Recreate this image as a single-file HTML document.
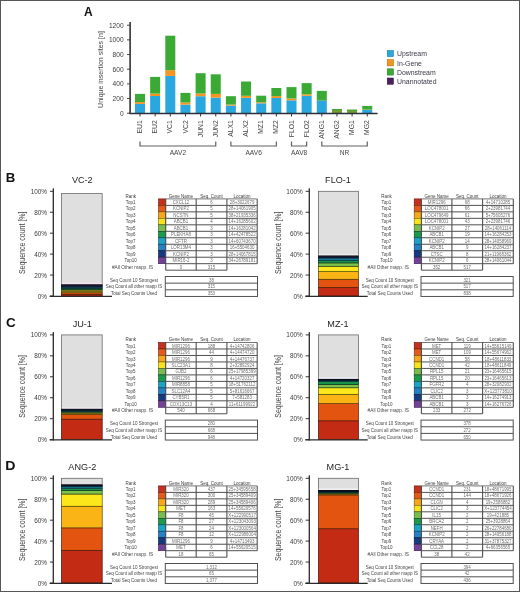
<!DOCTYPE html>
<html><head><meta charset="utf-8"><style>
html,body{margin:0;padding:0;background:#fff;}
body{width:520px;height:592px;overflow:hidden;}
svg{display:block;font-family:"Liberation Sans", sans-serif;will-change:transform;}
</style></head><body>
<svg width="520" height="592" viewBox="0 0 520 592">
<rect x="0" y="0" width="520" height="592" fill="#fff"/>
<text x="88.30" y="15.60" font-size="12" text-anchor="middle" fill="#111" font-weight="bold" >A</text>
<line x1="130.20" y1="22.00" x2="130.20" y2="113.70" stroke="#444" stroke-width="1.4"/>
<line x1="127.00" y1="113.20" x2="130.20" y2="113.20" stroke="#333" stroke-width="0.9"/>
<text x="123.60" y="115.50" font-size="6.6" text-anchor="end" fill="#3a3a3a" font-weight="normal" >0</text>
<line x1="127.00" y1="98.53" x2="130.20" y2="98.53" stroke="#333" stroke-width="0.9"/>
<text x="123.60" y="100.83" font-size="6.6" text-anchor="end" fill="#3a3a3a" font-weight="normal" >200</text>
<line x1="127.00" y1="83.87" x2="130.20" y2="83.87" stroke="#333" stroke-width="0.9"/>
<text x="123.60" y="86.17" font-size="6.6" text-anchor="end" fill="#3a3a3a" font-weight="normal" >400</text>
<line x1="127.00" y1="69.20" x2="130.20" y2="69.20" stroke="#333" stroke-width="0.9"/>
<text x="123.60" y="71.50" font-size="6.6" text-anchor="end" fill="#3a3a3a" font-weight="normal" >600</text>
<line x1="127.00" y1="54.53" x2="130.20" y2="54.53" stroke="#333" stroke-width="0.9"/>
<text x="123.60" y="56.83" font-size="6.6" text-anchor="end" fill="#3a3a3a" font-weight="normal" >800</text>
<line x1="127.00" y1="39.87" x2="130.20" y2="39.87" stroke="#333" stroke-width="0.9"/>
<text x="123.60" y="42.17" font-size="6.6" text-anchor="end" fill="#3a3a3a" font-weight="normal" >1000</text>
<line x1="127.00" y1="25.20" x2="130.20" y2="25.20" stroke="#333" stroke-width="0.9"/>
<text x="123.60" y="27.50" font-size="6.6" text-anchor="end" fill="#3a3a3a" font-weight="normal" >1200</text>
<text transform="translate(103.0,69.5) rotate(-90) scale(0.877,1)" font-size="8" text-anchor="middle" fill="#444">Unique insertion sites [n]</text>
<rect x="135.00" y="103.90" width="10.00" height="9.30" fill="#2aa7de"/>
<rect x="135.00" y="102.10" width="10.00" height="1.80" fill="#f7941d"/>
<rect x="135.00" y="93.90" width="10.00" height="8.20" fill="#3aaa35"/>
<line x1="140.00" y1="113.20" x2="140.00" y2="116.50" stroke="#333" stroke-width="1.0"/>
<text transform="translate(142.10,120.2) rotate(-90)" font-size="6.8" text-anchor="end" fill="#444">EU1</text>
<rect x="150.15" y="96.00" width="10.00" height="17.20" fill="#2aa7de"/>
<rect x="150.15" y="93.60" width="10.00" height="2.40" fill="#f7941d"/>
<rect x="150.15" y="76.90" width="10.00" height="16.70" fill="#3aaa35"/>
<line x1="155.15" y1="113.20" x2="155.15" y2="116.50" stroke="#333" stroke-width="1.0"/>
<text transform="translate(157.25,120.2) rotate(-90)" font-size="6.8" text-anchor="end" fill="#444">EU2</text>
<rect x="165.30" y="75.90" width="10.00" height="37.30" fill="#2aa7de"/>
<rect x="165.30" y="70.20" width="10.00" height="5.70" fill="#f7941d"/>
<rect x="165.30" y="35.70" width="10.00" height="34.50" fill="#3aaa35"/>
<line x1="170.30" y1="113.20" x2="170.30" y2="116.50" stroke="#333" stroke-width="1.0"/>
<text transform="translate(172.40,120.2) rotate(-90)" font-size="6.8" text-anchor="end" fill="#444">VC1</text>
<rect x="180.45" y="104.60" width="10.00" height="8.60" fill="#2aa7de"/>
<rect x="180.45" y="102.50" width="10.00" height="2.10" fill="#f7941d"/>
<rect x="180.45" y="92.90" width="10.00" height="9.60" fill="#3aaa35"/>
<line x1="185.45" y1="113.20" x2="185.45" y2="116.50" stroke="#333" stroke-width="1.0"/>
<text transform="translate(187.55,120.2) rotate(-90)" font-size="6.8" text-anchor="end" fill="#444">VC2</text>
<rect x="195.60" y="96.20" width="10.00" height="17.00" fill="#2aa7de"/>
<rect x="195.60" y="93.50" width="10.00" height="2.70" fill="#f7941d"/>
<rect x="195.60" y="73.20" width="10.00" height="20.30" fill="#3aaa35"/>
<line x1="200.60" y1="113.20" x2="200.60" y2="116.50" stroke="#333" stroke-width="1.0"/>
<text transform="translate(202.70,120.2) rotate(-90)" font-size="6.8" text-anchor="end" fill="#444">JUN1</text>
<rect x="210.75" y="97.60" width="10.00" height="15.60" fill="#2aa7de"/>
<rect x="210.75" y="93.90" width="10.00" height="3.70" fill="#f7941d"/>
<rect x="210.75" y="74.30" width="10.00" height="19.60" fill="#3aaa35"/>
<line x1="215.75" y1="113.20" x2="215.75" y2="116.50" stroke="#333" stroke-width="1.0"/>
<text transform="translate(217.85,120.2) rotate(-90)" font-size="6.8" text-anchor="end" fill="#444">JUN2</text>
<rect x="225.90" y="105.60" width="10.00" height="7.60" fill="#2aa7de"/>
<rect x="225.90" y="104.60" width="10.00" height="1.00" fill="#f7941d"/>
<rect x="225.90" y="96.20" width="10.00" height="8.40" fill="#3aaa35"/>
<line x1="230.90" y1="113.20" x2="230.90" y2="116.50" stroke="#333" stroke-width="1.0"/>
<text transform="translate(233.00,120.2) rotate(-90)" font-size="6.8" text-anchor="end" fill="#444">ALX1</text>
<rect x="241.05" y="97.80" width="10.00" height="15.40" fill="#2aa7de"/>
<rect x="241.05" y="95.80" width="10.00" height="2.00" fill="#f7941d"/>
<rect x="241.05" y="81.50" width="10.00" height="14.30" fill="#3aaa35"/>
<line x1="246.05" y1="113.20" x2="246.05" y2="116.50" stroke="#333" stroke-width="1.0"/>
<text transform="translate(248.15,120.2) rotate(-90)" font-size="6.8" text-anchor="end" fill="#444">ALX2</text>
<rect x="256.20" y="103.30" width="10.00" height="9.90" fill="#2aa7de"/>
<rect x="256.20" y="102.30" width="10.00" height="1.00" fill="#f7941d"/>
<rect x="256.20" y="95.70" width="10.00" height="6.60" fill="#3aaa35"/>
<line x1="261.20" y1="113.20" x2="261.20" y2="116.50" stroke="#333" stroke-width="1.0"/>
<text transform="translate(263.30,120.2) rotate(-90)" font-size="6.8" text-anchor="end" fill="#444">MZ1</text>
<rect x="271.35" y="98.00" width="10.00" height="15.20" fill="#2aa7de"/>
<rect x="271.35" y="96.10" width="10.00" height="1.90" fill="#f7941d"/>
<rect x="271.35" y="88.00" width="10.00" height="8.10" fill="#3aaa35"/>
<line x1="276.35" y1="113.20" x2="276.35" y2="116.50" stroke="#333" stroke-width="1.0"/>
<text transform="translate(278.45,120.2) rotate(-90)" font-size="6.8" text-anchor="end" fill="#444">MZ2</text>
<rect x="286.50" y="100.30" width="10.00" height="12.90" fill="#2aa7de"/>
<rect x="286.50" y="98.50" width="10.00" height="1.80" fill="#f7941d"/>
<rect x="286.50" y="87.10" width="10.00" height="11.40" fill="#3aaa35"/>
<line x1="291.50" y1="113.20" x2="291.50" y2="116.50" stroke="#333" stroke-width="1.0"/>
<text transform="translate(293.60,120.2) rotate(-90)" font-size="6.8" text-anchor="end" fill="#444">FLO1</text>
<rect x="301.65" y="95.80" width="10.00" height="17.40" fill="#2aa7de"/>
<rect x="301.65" y="94.30" width="10.00" height="1.50" fill="#f7941d"/>
<rect x="301.65" y="83.10" width="10.00" height="11.20" fill="#3aaa35"/>
<line x1="306.65" y1="113.20" x2="306.65" y2="116.50" stroke="#333" stroke-width="1.0"/>
<text transform="translate(308.75,120.2) rotate(-90)" font-size="6.8" text-anchor="end" fill="#444">FLO2</text>
<rect x="316.80" y="100.60" width="10.00" height="12.60" fill="#2aa7de"/>
<rect x="316.80" y="90.90" width="10.00" height="9.70" fill="#3aaa35"/>
<rect x="316.80" y="99.80" width="10.00" height="1.20" fill="#6fae8c"/>
<line x1="321.80" y1="113.20" x2="321.80" y2="116.50" stroke="#333" stroke-width="1.0"/>
<text transform="translate(323.90,120.2) rotate(-90)" font-size="6.8" text-anchor="end" fill="#444">ANG1</text>
<rect x="331.95" y="109.00" width="10.00" height="4.20" fill="#7a9c38"/>
<rect x="331.95" y="109.00" width="10.00" height="1.60" fill="#4aa532"/>
<line x1="336.95" y1="113.20" x2="336.95" y2="116.50" stroke="#333" stroke-width="1.0"/>
<text transform="translate(339.05,120.2) rotate(-90)" font-size="6.8" text-anchor="end" fill="#444">ANG2</text>
<rect x="347.10" y="109.70" width="10.00" height="3.50" fill="#7a9c38"/>
<rect x="347.10" y="109.70" width="10.00" height="1.60" fill="#4aa532"/>
<line x1="352.10" y1="113.20" x2="352.10" y2="116.50" stroke="#333" stroke-width="1.0"/>
<text transform="translate(354.20,120.2) rotate(-90)" font-size="6.8" text-anchor="end" fill="#444">MG1</text>
<rect x="362.25" y="110.00" width="10.00" height="3.20" fill="#2aa7de"/>
<rect x="362.25" y="109.60" width="10.00" height="0.40" fill="#f7941d"/>
<rect x="362.25" y="105.90" width="10.00" height="3.70" fill="#3aaa35"/>
<line x1="367.25" y1="113.20" x2="367.25" y2="116.50" stroke="#333" stroke-width="1.0"/>
<text transform="translate(369.35,120.2) rotate(-90)" font-size="6.8" text-anchor="end" fill="#444">MG2</text>
<line x1="129.50" y1="113.50" x2="377.60" y2="113.50" stroke="#2a2f38" stroke-width="1.4"/>
<line x1="130.20" y1="22.00" x2="130.20" y2="113.70" stroke="#444" stroke-width="1.4"/>
<path d="M140.00,141.4 V146.0 H215.75 V141.4" fill="none" stroke="#606060" stroke-width="1.2"/>
<text x="177.88" y="154.80" font-size="6.6" text-anchor="middle" fill="#444" font-weight="normal" >AAV2</text>
<path d="M230.90,141.4 V146.0 H276.35 V141.4" fill="none" stroke="#606060" stroke-width="1.2"/>
<text x="253.62" y="154.80" font-size="6.6" text-anchor="middle" fill="#444" font-weight="normal" >AAV6</text>
<path d="M291.50,141.4 V146.0 H306.65 V141.4" fill="none" stroke="#606060" stroke-width="1.2"/>
<text x="299.07" y="154.80" font-size="6.6" text-anchor="middle" fill="#444" font-weight="normal" >AAV8</text>
<path d="M321.80,141.4 V146.0 H367.25 V141.4" fill="none" stroke="#606060" stroke-width="1.2"/>
<text x="344.52" y="154.80" font-size="6.6" text-anchor="middle" fill="#444" font-weight="normal" >NR</text>
<rect x="387.20" y="50.40" width="6.30" height="6.30" fill="#2aa7de" stroke="#1d749b" stroke-width="0.5"/>
<text x="397.00" y="56.30" font-size="6.9" text-anchor="start" fill="#3a3646" font-weight="normal" >Upstream</text>
<rect x="387.20" y="59.60" width="6.30" height="6.30" fill="#f7941d" stroke="#ac6714" stroke-width="0.5"/>
<text x="397.00" y="65.50" font-size="6.9" text-anchor="start" fill="#3a3646" font-weight="normal" >In-Gene</text>
<rect x="387.20" y="68.80" width="6.30" height="6.30" fill="#3aaa35" stroke="#287625" stroke-width="0.5"/>
<text x="397.00" y="74.70" font-size="6.9" text-anchor="start" fill="#3a3646" font-weight="normal" >Downstream</text>
<rect x="387.20" y="78.00" width="6.30" height="6.30" fill="#4b1f5c" stroke="#341540" stroke-width="0.5"/>
<text x="397.00" y="83.90" font-size="6.9" text-anchor="start" fill="#3a3646" font-weight="normal" >Unannotated</text>
<g transform="translate(0,0)">
<text transform="translate(10.50,182.40) scale(1.1,1)" font-size="12.0" text-anchor="middle" fill="#111" font-weight="bold">B</text>
<text transform="translate(82.30,183.00) scale(0.95,1)" font-size="9.6" text-anchor="middle" fill="#1e1e1e" font-weight="normal">VC-2</text>
<line x1="53.40" y1="188.60" x2="53.40" y2="296.50" stroke="#333" stroke-width="1.2"/>
<line x1="50.00" y1="296.00" x2="53.40" y2="296.00" stroke="#333" stroke-width="1.0"/>
<text x="47.00" y="298.60" font-size="6.4" text-anchor="end" fill="#3a3a3a" font-weight="normal" >0%</text>
<line x1="50.00" y1="275.06" x2="53.40" y2="275.06" stroke="#333" stroke-width="1.0"/>
<text x="47.00" y="277.66" font-size="6.4" text-anchor="end" fill="#3a3a3a" font-weight="normal" >20%</text>
<line x1="50.00" y1="254.12" x2="53.40" y2="254.12" stroke="#333" stroke-width="1.0"/>
<text x="47.00" y="256.72" font-size="6.4" text-anchor="end" fill="#3a3a3a" font-weight="normal" >40%</text>
<line x1="50.00" y1="233.18" x2="53.40" y2="233.18" stroke="#333" stroke-width="1.0"/>
<text x="47.00" y="235.78" font-size="6.4" text-anchor="end" fill="#3a3a3a" font-weight="normal" >60%</text>
<line x1="50.00" y1="212.24" x2="53.40" y2="212.24" stroke="#333" stroke-width="1.0"/>
<text x="47.00" y="214.84" font-size="6.4" text-anchor="end" fill="#3a3a3a" font-weight="normal" >80%</text>
<line x1="50.00" y1="191.30" x2="53.40" y2="191.30" stroke="#333" stroke-width="1.0"/>
<text x="47.00" y="193.90" font-size="6.4" text-anchor="end" fill="#3a3a3a" font-weight="normal" >100%</text>
<text transform="translate(25.4,242.8) rotate(-90) scale(0.834,1)" font-size="8.4" text-anchor="middle" fill="#444">Sequence count [%]</text>
<rect x="61.40" y="193.60" width="40.80" height="91.13" fill="#dfdfdf" stroke="#6a6a6a" stroke-width="0.8"/>
<rect x="61.80" y="282.73" width="40.00" height="1.80" fill="#f5e3f1"/>
<rect x="61.40" y="294.22" width="40.80" height="1.78" fill="#c42b14" stroke="#3a0c06" stroke-width="0.65"/>
<rect x="61.40" y="292.74" width="40.80" height="1.48" fill="#e35411" stroke="#441905" stroke-width="0.65"/>
<rect x="61.40" y="291.25" width="40.80" height="1.48" fill="#fbb415" stroke="#4b3606" stroke-width="0.65"/>
<rect x="61.40" y="290.07" width="40.80" height="1.19" fill="#fce71b" stroke="#4b4508" stroke-width="0.65"/>
<rect x="61.40" y="289.18" width="40.80" height="0.89" fill="#7fc24a" stroke="#263a16" stroke-width="0.65"/>
<rect x="61.40" y="288.29" width="40.80" height="0.89" fill="#17944a" stroke="#062c16" stroke-width="0.65"/>
<rect x="61.40" y="287.40" width="40.80" height="0.89" fill="#1a8fa8" stroke="#072a32" stroke-width="0.65"/>
<rect x="61.40" y="286.51" width="40.80" height="0.89" fill="#2478b8" stroke="#0a2437" stroke-width="0.65"/>
<rect x="61.40" y="285.62" width="40.80" height="0.89" fill="#0f2a5c" stroke="#040c1b" stroke-width="0.65"/>
<rect x="61.40" y="284.73" width="40.80" height="0.89" fill="#2a2a4a" stroke="#0c0c16" stroke-width="0.65"/>
<line x1="49.60" y1="296.30" x2="112.00" y2="296.30" stroke="#2a2a2a" stroke-width="1.2"/>
<line x1="53.40" y1="188.60" x2="53.40" y2="296.90" stroke="#333" stroke-width="1.2"/>
<text transform="translate(130.80,197.60) scale(0.92,1)" font-size="4.9" text-anchor="middle" fill="#3a3a3a" font-weight="normal">Rank</text>
<text transform="translate(180.95,197.60) scale(0.92,1)" font-size="4.9" text-anchor="middle" fill="#3a3a3a" font-weight="normal">Gene Name</text>
<text transform="translate(211.55,197.60) scale(0.92,1)" font-size="4.9" text-anchor="middle" fill="#3a3a3a" font-weight="normal">Seq. Count</text>
<text transform="translate(242.05,197.60) scale(0.92,1)" font-size="4.9" text-anchor="middle" fill="#3a3a3a" font-weight="normal">Location</text>
<text transform="translate(130.60,203.94) scale(0.92,1)" font-size="4.9" text-anchor="middle" fill="#444" font-weight="normal">Top1</text>
<rect x="158.50" y="198.90" width="7.20" height="6.48" fill="#c8301e" stroke="#5a150d" stroke-width="0.6"/>
<text transform="translate(180.95,203.94) scale(0.9,1)" font-size="4.9" text-anchor="middle" fill="#6e6e6e" font-weight="normal">CXCL12</text>
<text transform="translate(211.55,203.94) scale(0.9,1)" font-size="4.9" text-anchor="middle" fill="#6e6e6e" font-weight="normal">6</text>
<text transform="translate(242.05,203.94) scale(0.9,1)" font-size="4.9" text-anchor="middle" fill="#6e6e6e" font-weight="normal">28+3022679</text>
<text transform="translate(130.60,210.42) scale(0.92,1)" font-size="4.9" text-anchor="middle" fill="#444" font-weight="normal">Top2</text>
<rect x="158.50" y="205.38" width="7.20" height="6.48" fill="#e55a1c" stroke="#67280c" stroke-width="0.6"/>
<text transform="translate(180.95,210.42) scale(0.9,1)" font-size="4.9" text-anchor="middle" fill="#6e6e6e" font-weight="normal">KCNIP2</text>
<text transform="translate(211.55,210.42) scale(0.9,1)" font-size="4.9" text-anchor="middle" fill="#6e6e6e" font-weight="normal">5</text>
<text transform="translate(242.05,210.42) scale(0.9,1)" font-size="4.9" text-anchor="middle" fill="#6e6e6e" font-weight="normal">28+14061905</text>
<text transform="translate(130.60,216.90) scale(0.92,1)" font-size="4.9" text-anchor="middle" fill="#444" font-weight="normal">Top3</text>
<rect x="158.50" y="211.86" width="7.20" height="6.48" fill="#f6a81a" stroke="#6e4b0b" stroke-width="0.6"/>
<text transform="translate(180.95,216.90) scale(0.9,1)" font-size="4.9" text-anchor="middle" fill="#6e6e6e" font-weight="normal">NCSTN</text>
<text transform="translate(211.55,216.90) scale(0.9,1)" font-size="4.9" text-anchor="middle" fill="#6e6e6e" font-weight="normal">5</text>
<text transform="translate(242.05,216.90) scale(0.9,1)" font-size="4.9" text-anchor="middle" fill="#6e6e6e" font-weight="normal">38+21935336</text>
<text transform="translate(130.60,223.38) scale(0.92,1)" font-size="4.9" text-anchor="middle" fill="#444" font-weight="normal">Top4</text>
<rect x="158.50" y="218.34" width="7.20" height="6.48" fill="#f9e31c" stroke="#70660c" stroke-width="0.6"/>
<text transform="translate(180.95,223.38) scale(0.9,1)" font-size="4.9" text-anchor="middle" fill="#6e6e6e" font-weight="normal">ABCB1</text>
<text transform="translate(211.55,223.38) scale(0.9,1)" font-size="4.9" text-anchor="middle" fill="#6e6e6e" font-weight="normal">4</text>
<text transform="translate(242.05,223.38) scale(0.9,1)" font-size="4.9" text-anchor="middle" fill="#6e6e6e" font-weight="normal">14+16285602</text>
<text transform="translate(130.60,229.86) scale(0.92,1)" font-size="4.9" text-anchor="middle" fill="#444" font-weight="normal">Top5</text>
<rect x="158.50" y="224.82" width="7.20" height="6.48" fill="#79bd4f" stroke="#365523" stroke-width="0.6"/>
<text transform="translate(180.95,229.86) scale(0.9,1)" font-size="4.9" text-anchor="middle" fill="#6e6e6e" font-weight="normal">ABCB1</text>
<text transform="translate(211.55,229.86) scale(0.9,1)" font-size="4.9" text-anchor="middle" fill="#6e6e6e" font-weight="normal">3</text>
<text transform="translate(242.05,229.86) scale(0.9,1)" font-size="4.9" text-anchor="middle" fill="#6e6e6e" font-weight="normal">14+16281042</text>
<text transform="translate(130.60,236.34) scale(0.92,1)" font-size="4.9" text-anchor="middle" fill="#444" font-weight="normal">Top6</text>
<rect x="158.50" y="231.30" width="7.20" height="6.48" fill="#1a9b4b" stroke="#0b4521" stroke-width="0.6"/>
<text transform="translate(180.95,236.34) scale(0.9,1)" font-size="4.9" text-anchor="middle" fill="#6e6e6e" font-weight="normal">PLEKHA8</text>
<text transform="translate(211.55,236.34) scale(0.9,1)" font-size="4.9" text-anchor="middle" fill="#6e6e6e" font-weight="normal">3</text>
<text transform="translate(242.05,236.34) scale(0.9,1)" font-size="4.9" text-anchor="middle" fill="#6e6e6e" font-weight="normal">14+42478522</text>
<text transform="translate(130.60,242.82) scale(0.92,1)" font-size="4.9" text-anchor="middle" fill="#444" font-weight="normal">Top7</text>
<rect x="158.50" y="237.78" width="7.20" height="6.48" fill="#1ba3c6" stroke="#0c4959" stroke-width="0.6"/>
<text transform="translate(180.95,242.82) scale(0.9,1)" font-size="4.9" text-anchor="middle" fill="#6e6e6e" font-weight="normal">CFTR</text>
<text transform="translate(211.55,242.82) scale(0.9,1)" font-size="4.9" text-anchor="middle" fill="#6e6e6e" font-weight="normal">3</text>
<text transform="translate(242.05,242.82) scale(0.9,1)" font-size="4.9" text-anchor="middle" fill="#6e6e6e" font-weight="normal">14+60743670</text>
<text transform="translate(130.60,249.30) scale(0.92,1)" font-size="4.9" text-anchor="middle" fill="#444" font-weight="normal">Top8</text>
<rect x="158.50" y="244.26" width="7.20" height="6.48" fill="#2481c3" stroke="#103a57" stroke-width="0.6"/>
<text transform="translate(180.95,249.30) scale(0.9,1)" font-size="4.9" text-anchor="middle" fill="#6e6e6e" font-weight="normal">LOR13M4</text>
<text transform="translate(211.55,249.30) scale(0.9,1)" font-size="4.9" text-anchor="middle" fill="#6e6e6e" font-weight="normal">3</text>
<text transform="translate(242.05,249.30) scale(0.9,1)" font-size="4.9" text-anchor="middle" fill="#6e6e6e" font-weight="normal">16+5504630</text>
<text transform="translate(130.60,255.78) scale(0.92,1)" font-size="4.9" text-anchor="middle" fill="#444" font-weight="normal">Top9</text>
<rect x="158.50" y="250.74" width="7.20" height="6.48" fill="#163a80" stroke="#091a39" stroke-width="0.6"/>
<text transform="translate(180.95,255.78) scale(0.9,1)" font-size="4.9" text-anchor="middle" fill="#6e6e6e" font-weight="normal">KCNIP2</text>
<text transform="translate(211.55,255.78) scale(0.9,1)" font-size="4.9" text-anchor="middle" fill="#6e6e6e" font-weight="normal">3</text>
<text transform="translate(242.05,255.78) scale(0.9,1)" font-size="4.9" text-anchor="middle" fill="#6e6e6e" font-weight="normal">28+14067815</text>
<text transform="translate(130.60,262.26) scale(0.92,1)" font-size="4.9" text-anchor="middle" fill="#444" font-weight="normal">Top10</text>
<rect x="158.50" y="257.22" width="7.20" height="6.48" fill="#74409a" stroke="#341c45" stroke-width="0.6"/>
<text transform="translate(180.95,262.26) scale(0.9,1)" font-size="4.9" text-anchor="middle" fill="#6e6e6e" font-weight="normal">MIR16-2</text>
<text transform="translate(211.55,262.26) scale(0.9,1)" font-size="4.9" text-anchor="middle" fill="#6e6e6e" font-weight="normal">3</text>
<text transform="translate(242.05,262.26) scale(0.9,1)" font-size="4.9" text-anchor="middle" fill="#6e6e6e" font-weight="normal">34+26789181</text>
<line x1="165.70" y1="198.90" x2="257.20" y2="198.90" stroke="#505050" stroke-width="0.8"/>
<line x1="165.70" y1="205.38" x2="257.20" y2="205.38" stroke="#505050" stroke-width="1.0"/>
<line x1="165.70" y1="211.86" x2="257.20" y2="211.86" stroke="#505050" stroke-width="1.0"/>
<line x1="165.70" y1="218.34" x2="257.20" y2="218.34" stroke="#505050" stroke-width="1.0"/>
<line x1="165.70" y1="224.82" x2="257.20" y2="224.82" stroke="#505050" stroke-width="1.0"/>
<line x1="165.70" y1="231.30" x2="257.20" y2="231.30" stroke="#505050" stroke-width="1.0"/>
<line x1="165.70" y1="237.78" x2="257.20" y2="237.78" stroke="#505050" stroke-width="1.0"/>
<line x1="165.70" y1="244.26" x2="257.20" y2="244.26" stroke="#505050" stroke-width="1.0"/>
<line x1="165.70" y1="250.74" x2="257.20" y2="250.74" stroke="#505050" stroke-width="1.0"/>
<line x1="165.70" y1="257.22" x2="257.20" y2="257.22" stroke="#505050" stroke-width="1.0"/>
<line x1="165.70" y1="263.70" x2="257.20" y2="263.70" stroke="#505050" stroke-width="1.0"/>
<line x1="165.70" y1="198.90" x2="165.70" y2="263.70" stroke="#505050" stroke-width="1.1"/>
<line x1="196.20" y1="198.90" x2="196.20" y2="263.70" stroke="#505050" stroke-width="1.1"/>
<line x1="226.90" y1="198.90" x2="226.90" y2="263.70" stroke="#505050" stroke-width="1.1"/>
<line x1="257.20" y1="198.90" x2="257.20" y2="263.70" stroke="#505050" stroke-width="1.1"/>
<text transform="translate(132.60,268.74) scale(0.97,1)" font-size="4.9" text-anchor="middle" fill="#444" font-weight="normal">#All Other mapp. IS</text>
<text transform="translate(180.95,268.74) scale(0.9,1)" font-size="4.9" text-anchor="middle" fill="#6e6e6e" font-weight="normal">0</text>
<text transform="translate(211.55,268.74) scale(0.9,1)" font-size="4.9" text-anchor="middle" fill="#6e6e6e" font-weight="normal">315</text>
<line x1="165.70" y1="270.18" x2="226.90" y2="270.18" stroke="#505050" stroke-width="1.0"/>
<line x1="165.70" y1="263.70" x2="165.70" y2="270.18" stroke="#505050" stroke-width="1.1"/>
<line x1="196.20" y1="263.70" x2="196.20" y2="270.18" stroke="#505050" stroke-width="1.1"/>
<line x1="226.90" y1="263.70" x2="226.90" y2="270.18" stroke="#505050" stroke-width="1.1"/>
<text transform="translate(134.00,281.62) scale(0.92,1)" font-size="4.9" text-anchor="middle" fill="#444" font-weight="normal">Seq Count 10 Strongest</text>
<text transform="translate(211.40,281.62) scale(0.9,1)" font-size="4.9" text-anchor="middle" fill="#6e6e6e" font-weight="normal">38</text>
<text transform="translate(134.00,288.27) scale(0.92,1)" font-size="4.9" text-anchor="middle" fill="#444" font-weight="normal">Seq Count all other mapp IS</text>
<text transform="translate(211.40,288.27) scale(0.9,1)" font-size="4.9" text-anchor="middle" fill="#6e6e6e" font-weight="normal">315</text>
<text transform="translate(134.00,294.93) scale(0.92,1)" font-size="4.9" text-anchor="middle" fill="#444" font-weight="normal">Total Seq Counts Used</text>
<text transform="translate(211.40,294.93) scale(0.9,1)" font-size="4.9" text-anchor="middle" fill="#6e6e6e" font-weight="normal">353</text>
<rect x="165.30" y="276.50" width="92.20" height="19.95" fill="none" stroke="#505050" stroke-width="1.0"/>
<line x1="165.30" y1="283.15" x2="257.50" y2="283.15" stroke="#505050" stroke-width="1.0"/>
<line x1="165.30" y1="289.80" x2="257.50" y2="289.80" stroke="#505050" stroke-width="1.0"/>
</g>
<g transform="translate(255.7,0)">
<text transform="translate(82.30,183.00) scale(0.95,1)" font-size="9.6" text-anchor="middle" fill="#1e1e1e" font-weight="normal">FLO-1</text>
<line x1="53.70" y1="188.60" x2="53.70" y2="296.50" stroke="#333" stroke-width="1.2"/>
<line x1="50.00" y1="296.00" x2="53.70" y2="296.00" stroke="#333" stroke-width="1.0"/>
<text x="47.00" y="298.60" font-size="6.4" text-anchor="end" fill="#3a3a3a" font-weight="normal" >0%</text>
<line x1="50.00" y1="275.06" x2="53.70" y2="275.06" stroke="#333" stroke-width="1.0"/>
<text x="47.00" y="277.66" font-size="6.4" text-anchor="end" fill="#3a3a3a" font-weight="normal" >20%</text>
<line x1="50.00" y1="254.12" x2="53.70" y2="254.12" stroke="#333" stroke-width="1.0"/>
<text x="47.00" y="256.72" font-size="6.4" text-anchor="end" fill="#3a3a3a" font-weight="normal" >40%</text>
<line x1="50.00" y1="233.18" x2="53.70" y2="233.18" stroke="#333" stroke-width="1.0"/>
<text x="47.00" y="235.78" font-size="6.4" text-anchor="end" fill="#3a3a3a" font-weight="normal" >60%</text>
<line x1="50.00" y1="212.24" x2="53.70" y2="212.24" stroke="#333" stroke-width="1.0"/>
<text x="47.00" y="214.84" font-size="6.4" text-anchor="end" fill="#3a3a3a" font-weight="normal" >80%</text>
<line x1="50.00" y1="191.30" x2="53.70" y2="191.30" stroke="#333" stroke-width="1.0"/>
<text x="47.00" y="193.90" font-size="6.4" text-anchor="end" fill="#3a3a3a" font-weight="normal" >100%</text>
<text transform="translate(25.4,242.8) rotate(-90) scale(0.834,1)" font-size="8.4" text-anchor="middle" fill="#444">Sequence count [%]</text>
<rect x="62.70" y="191.30" width="40.10" height="64.59" fill="#dfdfdf" stroke="#6a6a6a" stroke-width="0.8"/>
<rect x="63.10" y="253.89" width="39.30" height="1.80" fill="#ededed"/>
<rect x="62.70" y="287.50" width="40.10" height="8.50" fill="#c42b14" stroke="#3a0c06" stroke-width="0.65"/>
<rect x="62.70" y="279.26" width="40.10" height="8.25" fill="#e35411" stroke="#441905" stroke-width="0.65"/>
<rect x="62.70" y="271.64" width="40.10" height="7.62" fill="#fbb415" stroke="#4b3606" stroke-width="0.65"/>
<rect x="62.70" y="266.26" width="40.10" height="5.37" fill="#fce71b" stroke="#4b4508" stroke-width="0.65"/>
<rect x="62.70" y="262.89" width="40.10" height="3.37" fill="#7fc24a" stroke="#263a16" stroke-width="0.65"/>
<rect x="62.70" y="260.52" width="40.10" height="2.37" fill="#17944a" stroke="#062c16" stroke-width="0.65"/>
<rect x="62.70" y="258.77" width="40.10" height="1.75" fill="#1a8fa8" stroke="#072a32" stroke-width="0.65"/>
<rect x="62.70" y="257.64" width="40.10" height="1.12" fill="#2478b8" stroke="#0a2437" stroke-width="0.65"/>
<rect x="62.70" y="256.64" width="40.10" height="1.00" fill="#0f2a5c" stroke="#040c1b" stroke-width="0.65"/>
<rect x="62.70" y="255.89" width="40.10" height="0.75" fill="#2a2a4a" stroke="#0c0c16" stroke-width="0.65"/>
<line x1="49.60" y1="296.30" x2="112.00" y2="296.30" stroke="#2a2a2a" stroke-width="1.2"/>
<line x1="53.70" y1="188.60" x2="53.70" y2="296.90" stroke="#333" stroke-width="1.2"/>
<text transform="translate(130.80,197.60) scale(0.92,1)" font-size="4.9" text-anchor="middle" fill="#3a3a3a" font-weight="normal">Rank</text>
<text transform="translate(180.95,197.60) scale(0.92,1)" font-size="4.9" text-anchor="middle" fill="#3a3a3a" font-weight="normal">Gene Name</text>
<text transform="translate(211.55,197.60) scale(0.92,1)" font-size="4.9" text-anchor="middle" fill="#3a3a3a" font-weight="normal">Seq. Count</text>
<text transform="translate(242.25,197.60) scale(0.92,1)" font-size="4.9" text-anchor="middle" fill="#3a3a3a" font-weight="normal">Location</text>
<text transform="translate(130.60,203.94) scale(0.92,1)" font-size="4.9" text-anchor="middle" fill="#444" font-weight="normal">Top1</text>
<rect x="158.50" y="198.90" width="7.20" height="6.48" fill="#c8301e" stroke="#5a150d" stroke-width="0.6"/>
<text transform="translate(180.95,203.94) scale(0.9,1)" font-size="4.9" text-anchor="middle" fill="#6e6e6e" font-weight="normal">MIR1296</text>
<text transform="translate(211.55,203.94) scale(0.9,1)" font-size="4.9" text-anchor="middle" fill="#6e6e6e" font-weight="normal">68</text>
<text transform="translate(242.25,203.94) scale(0.9,1)" font-size="4.9" text-anchor="middle" fill="#6e6e6e" font-weight="normal">4+14710285</text>
<text transform="translate(130.60,210.42) scale(0.92,1)" font-size="4.9" text-anchor="middle" fill="#444" font-weight="normal">Top2</text>
<rect x="158.50" y="205.38" width="7.20" height="6.48" fill="#e55a1c" stroke="#67280c" stroke-width="0.6"/>
<text transform="translate(180.95,210.42) scale(0.9,1)" font-size="4.9" text-anchor="middle" fill="#6e6e6e" font-weight="normal">LOC478001</text>
<text transform="translate(211.55,210.42) scale(0.9,1)" font-size="4.9" text-anchor="middle" fill="#6e6e6e" font-weight="normal">66</text>
<text transform="translate(242.25,210.42) scale(0.9,1)" font-size="4.9" text-anchor="middle" fill="#6e6e6e" font-weight="normal">2+23981744</text>
<text transform="translate(130.60,216.90) scale(0.92,1)" font-size="4.9" text-anchor="middle" fill="#444" font-weight="normal">Top3</text>
<rect x="158.50" y="211.86" width="7.20" height="6.48" fill="#f6a81a" stroke="#6e4b0b" stroke-width="0.6"/>
<text transform="translate(180.95,216.90) scale(0.9,1)" font-size="4.9" text-anchor="middle" fill="#6e6e6e" font-weight="normal">LOC479649</text>
<text transform="translate(211.55,216.90) scale(0.9,1)" font-size="4.9" text-anchor="middle" fill="#6e6e6e" font-weight="normal">61</text>
<text transform="translate(242.25,216.90) scale(0.9,1)" font-size="4.9" text-anchor="middle" fill="#6e6e6e" font-weight="normal">5+75605276</text>
<text transform="translate(130.60,223.38) scale(0.92,1)" font-size="4.9" text-anchor="middle" fill="#444" font-weight="normal">Top4</text>
<rect x="158.50" y="218.34" width="7.20" height="6.48" fill="#f9e31c" stroke="#70660c" stroke-width="0.6"/>
<text transform="translate(180.95,223.38) scale(0.9,1)" font-size="4.9" text-anchor="middle" fill="#6e6e6e" font-weight="normal">LOC478001</text>
<text transform="translate(211.55,223.38) scale(0.9,1)" font-size="4.9" text-anchor="middle" fill="#6e6e6e" font-weight="normal">43</text>
<text transform="translate(242.25,223.38) scale(0.9,1)" font-size="4.9" text-anchor="middle" fill="#6e6e6e" font-weight="normal">2+23981746</text>
<text transform="translate(130.60,229.86) scale(0.92,1)" font-size="4.9" text-anchor="middle" fill="#444" font-weight="normal">Top5</text>
<rect x="158.50" y="224.82" width="7.20" height="6.48" fill="#79bd4f" stroke="#365523" stroke-width="0.6"/>
<text transform="translate(180.95,229.86) scale(0.9,1)" font-size="4.9" text-anchor="middle" fill="#6e6e6e" font-weight="normal">KCNIP2</text>
<text transform="translate(211.55,229.86) scale(0.9,1)" font-size="4.9" text-anchor="middle" fill="#6e6e6e" font-weight="normal">27</text>
<text transform="translate(242.25,229.86) scale(0.9,1)" font-size="4.9" text-anchor="middle" fill="#6e6e6e" font-weight="normal">28+14061114</text>
<text transform="translate(130.60,236.34) scale(0.92,1)" font-size="4.9" text-anchor="middle" fill="#444" font-weight="normal">Top6</text>
<rect x="158.50" y="231.30" width="7.20" height="6.48" fill="#1a9b4b" stroke="#0b4521" stroke-width="0.6"/>
<text transform="translate(180.95,236.34) scale(0.9,1)" font-size="4.9" text-anchor="middle" fill="#6e6e6e" font-weight="normal">ABCB1</text>
<text transform="translate(211.55,236.34) scale(0.9,1)" font-size="4.9" text-anchor="middle" fill="#6e6e6e" font-weight="normal">19</text>
<text transform="translate(242.25,236.34) scale(0.9,1)" font-size="4.9" text-anchor="middle" fill="#6e6e6e" font-weight="normal">14+16284253</text>
<text transform="translate(130.60,242.82) scale(0.92,1)" font-size="4.9" text-anchor="middle" fill="#444" font-weight="normal">Top7</text>
<rect x="158.50" y="237.78" width="7.20" height="6.48" fill="#1ba3c6" stroke="#0c4959" stroke-width="0.6"/>
<text transform="translate(180.95,242.82) scale(0.9,1)" font-size="4.9" text-anchor="middle" fill="#6e6e6e" font-weight="normal">KCNIP2</text>
<text transform="translate(211.55,242.82) scale(0.9,1)" font-size="4.9" text-anchor="middle" fill="#6e6e6e" font-weight="normal">14</text>
<text transform="translate(242.25,242.82) scale(0.9,1)" font-size="4.9" text-anchor="middle" fill="#6e6e6e" font-weight="normal">28+14058969</text>
<text transform="translate(130.60,249.30) scale(0.92,1)" font-size="4.9" text-anchor="middle" fill="#444" font-weight="normal">Top8</text>
<rect x="158.50" y="244.26" width="7.20" height="6.48" fill="#2481c3" stroke="#103a57" stroke-width="0.6"/>
<text transform="translate(180.95,249.30) scale(0.9,1)" font-size="4.9" text-anchor="middle" fill="#6e6e6e" font-weight="normal">ABCB1</text>
<text transform="translate(211.55,249.30) scale(0.9,1)" font-size="4.9" text-anchor="middle" fill="#6e6e6e" font-weight="normal">9</text>
<text transform="translate(242.25,249.30) scale(0.9,1)" font-size="4.9" text-anchor="middle" fill="#6e6e6e" font-weight="normal">14+16284237</text>
<text transform="translate(130.60,255.78) scale(0.92,1)" font-size="4.9" text-anchor="middle" fill="#444" font-weight="normal">Top9</text>
<rect x="158.50" y="250.74" width="7.20" height="6.48" fill="#163a80" stroke="#091a39" stroke-width="0.6"/>
<text transform="translate(180.95,255.78) scale(0.9,1)" font-size="4.9" text-anchor="middle" fill="#6e6e6e" font-weight="normal">CTSC</text>
<text transform="translate(211.55,255.78) scale(0.9,1)" font-size="4.9" text-anchor="middle" fill="#6e6e6e" font-weight="normal">8</text>
<text transform="translate(242.25,255.78) scale(0.9,1)" font-size="4.9" text-anchor="middle" fill="#6e6e6e" font-weight="normal">21+11968362</text>
<text transform="translate(130.60,262.26) scale(0.92,1)" font-size="4.9" text-anchor="middle" fill="#444" font-weight="normal">Top10</text>
<rect x="158.50" y="257.22" width="7.20" height="6.48" fill="#74409a" stroke="#341c45" stroke-width="0.6"/>
<text transform="translate(180.95,262.26) scale(0.9,1)" font-size="4.9" text-anchor="middle" fill="#6e6e6e" font-weight="normal">KCNIP2</text>
<text transform="translate(211.55,262.26) scale(0.9,1)" font-size="4.9" text-anchor="middle" fill="#6e6e6e" font-weight="normal">6</text>
<text transform="translate(242.25,262.26) scale(0.9,1)" font-size="4.9" text-anchor="middle" fill="#6e6e6e" font-weight="normal">28+14061044</text>
<line x1="165.70" y1="198.90" x2="257.60" y2="198.90" stroke="#505050" stroke-width="0.8"/>
<line x1="165.70" y1="205.38" x2="257.60" y2="205.38" stroke="#505050" stroke-width="1.0"/>
<line x1="165.70" y1="211.86" x2="257.60" y2="211.86" stroke="#505050" stroke-width="1.0"/>
<line x1="165.70" y1="218.34" x2="257.60" y2="218.34" stroke="#505050" stroke-width="1.0"/>
<line x1="165.70" y1="224.82" x2="257.60" y2="224.82" stroke="#505050" stroke-width="1.0"/>
<line x1="165.70" y1="231.30" x2="257.60" y2="231.30" stroke="#505050" stroke-width="1.0"/>
<line x1="165.70" y1="237.78" x2="257.60" y2="237.78" stroke="#505050" stroke-width="1.0"/>
<line x1="165.70" y1="244.26" x2="257.60" y2="244.26" stroke="#505050" stroke-width="1.0"/>
<line x1="165.70" y1="250.74" x2="257.60" y2="250.74" stroke="#505050" stroke-width="1.0"/>
<line x1="165.70" y1="257.22" x2="257.60" y2="257.22" stroke="#505050" stroke-width="1.0"/>
<line x1="165.70" y1="263.70" x2="257.60" y2="263.70" stroke="#505050" stroke-width="1.0"/>
<line x1="165.70" y1="198.90" x2="165.70" y2="263.70" stroke="#505050" stroke-width="1.1"/>
<line x1="196.20" y1="198.90" x2="196.20" y2="263.70" stroke="#505050" stroke-width="1.1"/>
<line x1="226.90" y1="198.90" x2="226.90" y2="263.70" stroke="#505050" stroke-width="1.1"/>
<line x1="257.60" y1="198.90" x2="257.60" y2="263.70" stroke="#505050" stroke-width="1.1"/>
<text transform="translate(132.60,268.74) scale(0.97,1)" font-size="4.9" text-anchor="middle" fill="#444" font-weight="normal">#All Other mapp. IS</text>
<text transform="translate(180.95,268.74) scale(0.9,1)" font-size="4.9" text-anchor="middle" fill="#6e6e6e" font-weight="normal">352</text>
<text transform="translate(211.55,268.74) scale(0.9,1)" font-size="4.9" text-anchor="middle" fill="#6e6e6e" font-weight="normal">517</text>
<line x1="165.70" y1="270.18" x2="226.90" y2="270.18" stroke="#505050" stroke-width="1.0"/>
<line x1="165.70" y1="263.70" x2="165.70" y2="270.18" stroke="#505050" stroke-width="1.1"/>
<line x1="196.20" y1="263.70" x2="196.20" y2="270.18" stroke="#505050" stroke-width="1.1"/>
<line x1="226.90" y1="263.70" x2="226.90" y2="270.18" stroke="#505050" stroke-width="1.1"/>
<text transform="translate(134.00,281.62) scale(0.92,1)" font-size="4.9" text-anchor="middle" fill="#444" font-weight="normal">Seq Count 10 Strongest</text>
<text transform="translate(211.40,281.62) scale(0.9,1)" font-size="4.9" text-anchor="middle" fill="#6e6e6e" font-weight="normal">321</text>
<text transform="translate(134.00,288.27) scale(0.92,1)" font-size="4.9" text-anchor="middle" fill="#444" font-weight="normal">Seq Count all other mapp IS</text>
<text transform="translate(211.40,288.27) scale(0.9,1)" font-size="4.9" text-anchor="middle" fill="#6e6e6e" font-weight="normal">517</text>
<text transform="translate(134.00,294.93) scale(0.92,1)" font-size="4.9" text-anchor="middle" fill="#444" font-weight="normal">Total Seq Counts Used</text>
<text transform="translate(211.40,294.93) scale(0.9,1)" font-size="4.9" text-anchor="middle" fill="#6e6e6e" font-weight="normal">838</text>
<rect x="165.30" y="276.50" width="92.20" height="19.95" fill="none" stroke="#505050" stroke-width="1.0"/>
<line x1="165.30" y1="283.15" x2="257.50" y2="283.15" stroke="#505050" stroke-width="1.0"/>
<line x1="165.30" y1="289.80" x2="257.50" y2="289.80" stroke="#505050" stroke-width="1.0"/>
</g>
<g transform="translate(0,143.6)">
<text transform="translate(10.80,182.90) scale(1.12,1)" font-size="12.0" text-anchor="middle" fill="#111" font-weight="bold">C</text>
<text transform="translate(82.30,183.00) scale(0.95,1)" font-size="9.6" text-anchor="middle" fill="#1e1e1e" font-weight="normal">JU-1</text>
<line x1="53.40" y1="188.60" x2="53.40" y2="296.50" stroke="#333" stroke-width="1.2"/>
<line x1="50.00" y1="296.00" x2="53.40" y2="296.00" stroke="#333" stroke-width="1.0"/>
<text x="47.00" y="298.60" font-size="6.4" text-anchor="end" fill="#3a3a3a" font-weight="normal" >0%</text>
<line x1="50.00" y1="275.06" x2="53.40" y2="275.06" stroke="#333" stroke-width="1.0"/>
<text x="47.00" y="277.66" font-size="6.4" text-anchor="end" fill="#3a3a3a" font-weight="normal" >20%</text>
<line x1="50.00" y1="254.12" x2="53.40" y2="254.12" stroke="#333" stroke-width="1.0"/>
<text x="47.00" y="256.72" font-size="6.4" text-anchor="end" fill="#3a3a3a" font-weight="normal" >40%</text>
<line x1="50.00" y1="233.18" x2="53.40" y2="233.18" stroke="#333" stroke-width="1.0"/>
<text x="47.00" y="235.78" font-size="6.4" text-anchor="end" fill="#3a3a3a" font-weight="normal" >60%</text>
<line x1="50.00" y1="212.24" x2="53.40" y2="212.24" stroke="#333" stroke-width="1.0"/>
<text x="47.00" y="214.84" font-size="6.4" text-anchor="end" fill="#3a3a3a" font-weight="normal" >80%</text>
<line x1="50.00" y1="191.30" x2="53.40" y2="191.30" stroke="#333" stroke-width="1.0"/>
<text x="47.00" y="193.90" font-size="6.4" text-anchor="end" fill="#3a3a3a" font-weight="normal" >100%</text>
<text transform="translate(25.4,242.8) rotate(-90) scale(0.834,1)" font-size="8.4" text-anchor="middle" fill="#444">Sequence count [%]</text>
<rect x="61.40" y="191.30" width="40.80" height="74.24" fill="#dfdfdf" stroke="#6a6a6a" stroke-width="0.8"/>
<rect x="61.80" y="263.54" width="40.00" height="1.80" fill="#eceaec"/>
<rect x="61.40" y="275.55" width="40.80" height="20.45" fill="#c42b14" stroke="#3a0c06" stroke-width="0.65"/>
<rect x="61.40" y="270.76" width="40.80" height="4.79" fill="#e35411" stroke="#441905" stroke-width="0.65"/>
<rect x="61.40" y="269.78" width="40.80" height="0.98" fill="#fbb415" stroke="#4b3606" stroke-width="0.65"/>
<rect x="61.40" y="268.91" width="40.80" height="0.87" fill="#fce71b" stroke="#4b4508" stroke-width="0.65"/>
<rect x="61.40" y="268.26" width="40.80" height="0.65" fill="#7fc24a" stroke="#263a16" stroke-width="0.65"/>
<rect x="61.40" y="267.61" width="40.80" height="0.65" fill="#17944a" stroke="#062c16" stroke-width="0.65"/>
<rect x="61.40" y="267.06" width="40.80" height="0.54" fill="#1a8fa8" stroke="#072a32" stroke-width="0.65"/>
<rect x="61.40" y="266.52" width="40.80" height="0.54" fill="#2478b8" stroke="#0a2437" stroke-width="0.65"/>
<rect x="61.40" y="265.97" width="40.80" height="0.54" fill="#0f2a5c" stroke="#040c1b" stroke-width="0.65"/>
<rect x="61.40" y="265.54" width="40.80" height="0.44" fill="#2a2a4a" stroke="#0c0c16" stroke-width="0.65"/>
<line x1="49.60" y1="296.30" x2="112.00" y2="296.30" stroke="#2a2a2a" stroke-width="1.2"/>
<line x1="53.40" y1="188.60" x2="53.40" y2="296.90" stroke="#333" stroke-width="1.2"/>
<text transform="translate(130.80,197.60) scale(0.92,1)" font-size="4.9" text-anchor="middle" fill="#3a3a3a" font-weight="normal">Rank</text>
<text transform="translate(180.95,197.60) scale(0.92,1)" font-size="4.9" text-anchor="middle" fill="#3a3a3a" font-weight="normal">Gene Name</text>
<text transform="translate(211.55,197.60) scale(0.92,1)" font-size="4.9" text-anchor="middle" fill="#3a3a3a" font-weight="normal">Seq. Count</text>
<text transform="translate(242.05,197.60) scale(0.92,1)" font-size="4.9" text-anchor="middle" fill="#3a3a3a" font-weight="normal">Location</text>
<text transform="translate(130.60,203.94) scale(0.92,1)" font-size="4.9" text-anchor="middle" fill="#444" font-weight="normal">Top1</text>
<rect x="158.50" y="198.90" width="7.20" height="6.48" fill="#c8301e" stroke="#5a150d" stroke-width="0.6"/>
<text transform="translate(180.95,203.94) scale(0.9,1)" font-size="4.9" text-anchor="middle" fill="#6e6e6e" font-weight="normal">MIR1296</text>
<text transform="translate(211.55,203.94) scale(0.9,1)" font-size="4.9" text-anchor="middle" fill="#6e6e6e" font-weight="normal">188</text>
<text transform="translate(242.05,203.94) scale(0.9,1)" font-size="4.9" text-anchor="middle" fill="#6e6e6e" font-weight="normal">4+14742806</text>
<text transform="translate(130.60,210.42) scale(0.92,1)" font-size="4.9" text-anchor="middle" fill="#444" font-weight="normal">Top2</text>
<rect x="158.50" y="205.38" width="7.20" height="6.48" fill="#e55a1c" stroke="#67280c" stroke-width="0.6"/>
<text transform="translate(180.95,210.42) scale(0.9,1)" font-size="4.9" text-anchor="middle" fill="#6e6e6e" font-weight="normal">MIR1296</text>
<text transform="translate(211.55,210.42) scale(0.9,1)" font-size="4.9" text-anchor="middle" fill="#6e6e6e" font-weight="normal">44</text>
<text transform="translate(242.05,210.42) scale(0.9,1)" font-size="4.9" text-anchor="middle" fill="#6e6e6e" font-weight="normal">4+14474720</text>
<text transform="translate(130.60,216.90) scale(0.92,1)" font-size="4.9" text-anchor="middle" fill="#444" font-weight="normal">Top3</text>
<rect x="158.50" y="211.86" width="7.20" height="6.48" fill="#f6a81a" stroke="#6e4b0b" stroke-width="0.6"/>
<text transform="translate(180.95,216.90) scale(0.9,1)" font-size="4.9" text-anchor="middle" fill="#6e6e6e" font-weight="normal">MIR1296</text>
<text transform="translate(211.55,216.90) scale(0.9,1)" font-size="4.9" text-anchor="middle" fill="#6e6e6e" font-weight="normal">9</text>
<text transform="translate(242.05,216.90) scale(0.9,1)" font-size="4.9" text-anchor="middle" fill="#6e6e6e" font-weight="normal">4+14476737</text>
<text transform="translate(130.60,223.38) scale(0.92,1)" font-size="4.9" text-anchor="middle" fill="#444" font-weight="normal">Top4</text>
<rect x="158.50" y="218.34" width="7.20" height="6.48" fill="#f9e31c" stroke="#70660c" stroke-width="0.6"/>
<text transform="translate(180.95,223.38) scale(0.9,1)" font-size="4.9" text-anchor="middle" fill="#6e6e6e" font-weight="normal">SLC23A1</text>
<text transform="translate(211.55,223.38) scale(0.9,1)" font-size="4.9" text-anchor="middle" fill="#6e6e6e" font-weight="normal">8</text>
<text transform="translate(242.05,223.38) scale(0.9,1)" font-size="4.9" text-anchor="middle" fill="#6e6e6e" font-weight="normal">2+32892924</text>
<text transform="translate(130.60,229.86) scale(0.92,1)" font-size="4.9" text-anchor="middle" fill="#444" font-weight="normal">Top5</text>
<rect x="158.50" y="224.82" width="7.20" height="6.48" fill="#79bd4f" stroke="#365523" stroke-width="0.6"/>
<text transform="translate(180.95,229.86) scale(0.9,1)" font-size="4.9" text-anchor="middle" fill="#6e6e6e" font-weight="normal">GJB2</text>
<text transform="translate(211.55,229.86) scale(0.9,1)" font-size="4.9" text-anchor="middle" fill="#6e6e6e" font-weight="normal">6</text>
<text transform="translate(242.05,229.86) scale(0.9,1)" font-size="4.9" text-anchor="middle" fill="#6e6e6e" font-weight="normal">25+17985399</text>
<text transform="translate(130.60,236.34) scale(0.92,1)" font-size="4.9" text-anchor="middle" fill="#444" font-weight="normal">Top6</text>
<rect x="158.50" y="231.30" width="7.20" height="6.48" fill="#1a9b4b" stroke="#0b4521" stroke-width="0.6"/>
<text transform="translate(180.95,236.34) scale(0.9,1)" font-size="4.9" text-anchor="middle" fill="#6e6e6e" font-weight="normal">MIR1296</text>
<text transform="translate(211.55,236.34) scale(0.9,1)" font-size="4.9" text-anchor="middle" fill="#6e6e6e" font-weight="normal">6</text>
<text transform="translate(242.05,236.34) scale(0.9,1)" font-size="4.9" text-anchor="middle" fill="#6e6e6e" font-weight="normal">4+14720327</text>
<text transform="translate(130.60,242.82) scale(0.92,1)" font-size="4.9" text-anchor="middle" fill="#444" font-weight="normal">Top7</text>
<rect x="158.50" y="237.78" width="7.20" height="6.48" fill="#1ba3c6" stroke="#0c4959" stroke-width="0.6"/>
<text transform="translate(180.95,242.82) scale(0.9,1)" font-size="4.9" text-anchor="middle" fill="#6e6e6e" font-weight="normal">MIR8858</text>
<text transform="translate(211.55,242.82) scale(0.9,1)" font-size="4.9" text-anchor="middle" fill="#6e6e6e" font-weight="normal">5</text>
<text transform="translate(242.05,242.82) scale(0.9,1)" font-size="4.9" text-anchor="middle" fill="#6e6e6e" font-weight="normal">18+51762112</text>
<text transform="translate(130.60,249.30) scale(0.92,1)" font-size="4.9" text-anchor="middle" fill="#444" font-weight="normal">Top8</text>
<rect x="158.50" y="244.26" width="7.20" height="6.48" fill="#2481c3" stroke="#103a57" stroke-width="0.6"/>
<text transform="translate(180.95,249.30) scale(0.9,1)" font-size="4.9" text-anchor="middle" fill="#6e6e6e" font-weight="normal">SLC12A4</text>
<text transform="translate(211.55,249.30) scale(0.9,1)" font-size="4.9" text-anchor="middle" fill="#6e6e6e" font-weight="normal">5</text>
<text transform="translate(242.05,249.30) scale(0.9,1)" font-size="4.9" text-anchor="middle" fill="#6e6e6e" font-weight="normal">5+81616667</text>
<text transform="translate(130.60,255.78) scale(0.92,1)" font-size="4.9" text-anchor="middle" fill="#444" font-weight="normal">Top9</text>
<rect x="158.50" y="250.74" width="7.20" height="6.48" fill="#163a80" stroke="#091a39" stroke-width="0.6"/>
<text transform="translate(180.95,255.78) scale(0.9,1)" font-size="4.9" text-anchor="middle" fill="#6e6e6e" font-weight="normal">CYB5R1</text>
<text transform="translate(211.55,255.78) scale(0.9,1)" font-size="4.9" text-anchor="middle" fill="#6e6e6e" font-weight="normal">5</text>
<text transform="translate(242.05,255.78) scale(0.9,1)" font-size="4.9" text-anchor="middle" fill="#6e6e6e" font-weight="normal">7+581283</text>
<text transform="translate(130.60,262.26) scale(0.92,1)" font-size="4.9" text-anchor="middle" fill="#444" font-weight="normal">Top10</text>
<rect x="158.50" y="257.22" width="7.20" height="6.48" fill="#74409a" stroke="#341c45" stroke-width="0.6"/>
<text transform="translate(180.95,262.26) scale(0.9,1)" font-size="4.9" text-anchor="middle" fill="#6e6e6e" font-weight="normal">COX13C13</text>
<text transform="translate(211.55,262.26) scale(0.9,1)" font-size="4.9" text-anchor="middle" fill="#6e6e6e" font-weight="normal">4</text>
<text transform="translate(242.05,262.26) scale(0.9,1)" font-size="4.9" text-anchor="middle" fill="#6e6e6e" font-weight="normal">11+61199922</text>
<line x1="165.70" y1="198.90" x2="257.20" y2="198.90" stroke="#505050" stroke-width="0.8"/>
<line x1="165.70" y1="205.38" x2="257.20" y2="205.38" stroke="#505050" stroke-width="1.0"/>
<line x1="165.70" y1="211.86" x2="257.20" y2="211.86" stroke="#505050" stroke-width="1.0"/>
<line x1="165.70" y1="218.34" x2="257.20" y2="218.34" stroke="#505050" stroke-width="1.0"/>
<line x1="165.70" y1="224.82" x2="257.20" y2="224.82" stroke="#505050" stroke-width="1.0"/>
<line x1="165.70" y1="231.30" x2="257.20" y2="231.30" stroke="#505050" stroke-width="1.0"/>
<line x1="165.70" y1="237.78" x2="257.20" y2="237.78" stroke="#505050" stroke-width="1.0"/>
<line x1="165.70" y1="244.26" x2="257.20" y2="244.26" stroke="#505050" stroke-width="1.0"/>
<line x1="165.70" y1="250.74" x2="257.20" y2="250.74" stroke="#505050" stroke-width="1.0"/>
<line x1="165.70" y1="257.22" x2="257.20" y2="257.22" stroke="#505050" stroke-width="1.0"/>
<line x1="165.70" y1="263.70" x2="257.20" y2="263.70" stroke="#505050" stroke-width="1.0"/>
<line x1="165.70" y1="198.90" x2="165.70" y2="263.70" stroke="#505050" stroke-width="1.1"/>
<line x1="196.20" y1="198.90" x2="196.20" y2="263.70" stroke="#505050" stroke-width="1.1"/>
<line x1="226.90" y1="198.90" x2="226.90" y2="263.70" stroke="#505050" stroke-width="1.1"/>
<line x1="257.20" y1="198.90" x2="257.20" y2="263.70" stroke="#505050" stroke-width="1.1"/>
<text transform="translate(132.60,268.74) scale(0.97,1)" font-size="4.9" text-anchor="middle" fill="#444" font-weight="normal">#All Other mapp. IS</text>
<text transform="translate(180.95,268.74) scale(0.9,1)" font-size="4.9" text-anchor="middle" fill="#6e6e6e" font-weight="normal">540</text>
<text transform="translate(211.55,268.74) scale(0.9,1)" font-size="4.9" text-anchor="middle" fill="#6e6e6e" font-weight="normal">668</text>
<line x1="165.70" y1="270.18" x2="226.90" y2="270.18" stroke="#505050" stroke-width="1.0"/>
<line x1="165.70" y1="263.70" x2="165.70" y2="270.18" stroke="#505050" stroke-width="1.1"/>
<line x1="196.20" y1="263.70" x2="196.20" y2="270.18" stroke="#505050" stroke-width="1.1"/>
<line x1="226.90" y1="263.70" x2="226.90" y2="270.18" stroke="#505050" stroke-width="1.1"/>
<text transform="translate(134.00,281.62) scale(0.92,1)" font-size="4.9" text-anchor="middle" fill="#444" font-weight="normal">Seq Count 10 Strongest</text>
<text transform="translate(211.40,281.62) scale(0.9,1)" font-size="4.9" text-anchor="middle" fill="#6e6e6e" font-weight="normal">280</text>
<text transform="translate(134.00,288.27) scale(0.92,1)" font-size="4.9" text-anchor="middle" fill="#444" font-weight="normal">Seq Count all other mapp IS</text>
<text transform="translate(211.40,288.27) scale(0.9,1)" font-size="4.9" text-anchor="middle" fill="#6e6e6e" font-weight="normal">668</text>
<text transform="translate(134.00,294.93) scale(0.92,1)" font-size="4.9" text-anchor="middle" fill="#444" font-weight="normal">Total Seq Counts Used</text>
<text transform="translate(211.40,294.93) scale(0.9,1)" font-size="4.9" text-anchor="middle" fill="#6e6e6e" font-weight="normal">948</text>
<rect x="165.30" y="276.50" width="92.20" height="19.95" fill="none" stroke="#505050" stroke-width="1.0"/>
<line x1="165.30" y1="283.15" x2="257.50" y2="283.15" stroke="#505050" stroke-width="1.0"/>
<line x1="165.30" y1="289.80" x2="257.50" y2="289.80" stroke="#505050" stroke-width="1.0"/>
</g>
<g transform="translate(255.7,143.6)">
<text transform="translate(82.30,183.00) scale(0.95,1)" font-size="9.6" text-anchor="middle" fill="#1e1e1e" font-weight="normal">MZ-1</text>
<line x1="53.70" y1="188.60" x2="53.70" y2="296.50" stroke="#333" stroke-width="1.2"/>
<line x1="50.00" y1="296.00" x2="53.70" y2="296.00" stroke="#333" stroke-width="1.0"/>
<text x="47.00" y="298.60" font-size="6.4" text-anchor="end" fill="#3a3a3a" font-weight="normal" >0%</text>
<line x1="50.00" y1="275.06" x2="53.70" y2="275.06" stroke="#333" stroke-width="1.0"/>
<text x="47.00" y="277.66" font-size="6.4" text-anchor="end" fill="#3a3a3a" font-weight="normal" >20%</text>
<line x1="50.00" y1="254.12" x2="53.70" y2="254.12" stroke="#333" stroke-width="1.0"/>
<text x="47.00" y="256.72" font-size="6.4" text-anchor="end" fill="#3a3a3a" font-weight="normal" >40%</text>
<line x1="50.00" y1="233.18" x2="53.70" y2="233.18" stroke="#333" stroke-width="1.0"/>
<text x="47.00" y="235.78" font-size="6.4" text-anchor="end" fill="#3a3a3a" font-weight="normal" >60%</text>
<line x1="50.00" y1="212.24" x2="53.70" y2="212.24" stroke="#333" stroke-width="1.0"/>
<text x="47.00" y="214.84" font-size="6.4" text-anchor="end" fill="#3a3a3a" font-weight="normal" >80%</text>
<line x1="50.00" y1="191.30" x2="53.70" y2="191.30" stroke="#333" stroke-width="1.0"/>
<text x="47.00" y="193.90" font-size="6.4" text-anchor="end" fill="#3a3a3a" font-weight="normal" >100%</text>
<text transform="translate(25.4,242.8) rotate(-90) scale(0.834,1)" font-size="8.4" text-anchor="middle" fill="#444">Sequence count [%]</text>
<rect x="62.70" y="191.30" width="40.10" height="44.34" fill="#dfdfdf" stroke="#6a6a6a" stroke-width="0.8"/>
<rect x="63.10" y="233.64" width="39.30" height="1.80" fill="#e9ecf3"/>
<rect x="62.70" y="277.20" width="40.10" height="18.80" fill="#c42b14" stroke="#3a0c06" stroke-width="0.65"/>
<rect x="62.70" y="259.97" width="40.10" height="17.22" fill="#e35411" stroke="#441905" stroke-width="0.65"/>
<rect x="62.70" y="250.81" width="40.10" height="9.16" fill="#fbb415" stroke="#4b3606" stroke-width="0.65"/>
<rect x="62.70" y="244.17" width="40.10" height="6.64" fill="#fce71b" stroke="#4b4508" stroke-width="0.65"/>
<rect x="62.70" y="240.85" width="40.10" height="3.32" fill="#7fc24a" stroke="#263a16" stroke-width="0.65"/>
<rect x="62.70" y="237.69" width="40.10" height="3.16" fill="#17944a" stroke="#062c16" stroke-width="0.65"/>
<rect x="62.70" y="237.06" width="40.10" height="0.63" fill="#1a8fa8" stroke="#072a32" stroke-width="0.65"/>
<rect x="62.70" y="236.59" width="40.10" height="0.47" fill="#2478b8" stroke="#0a2437" stroke-width="0.65"/>
<rect x="62.70" y="236.11" width="40.10" height="0.47" fill="#0f2a5c" stroke="#040c1b" stroke-width="0.65"/>
<rect x="62.70" y="235.64" width="40.10" height="0.47" fill="#2a2a4a" stroke="#0c0c16" stroke-width="0.65"/>
<line x1="49.60" y1="296.30" x2="112.00" y2="296.30" stroke="#2a2a2a" stroke-width="1.2"/>
<line x1="53.70" y1="188.60" x2="53.70" y2="296.90" stroke="#333" stroke-width="1.2"/>
<text transform="translate(130.80,197.60) scale(0.92,1)" font-size="4.9" text-anchor="middle" fill="#3a3a3a" font-weight="normal">Rank</text>
<text transform="translate(180.95,197.60) scale(0.92,1)" font-size="4.9" text-anchor="middle" fill="#3a3a3a" font-weight="normal">Gene Name</text>
<text transform="translate(211.55,197.60) scale(0.92,1)" font-size="4.9" text-anchor="middle" fill="#3a3a3a" font-weight="normal">Seq. Count</text>
<text transform="translate(242.25,197.60) scale(0.92,1)" font-size="4.9" text-anchor="middle" fill="#3a3a3a" font-weight="normal">Location</text>
<text transform="translate(130.60,203.94) scale(0.92,1)" font-size="4.9" text-anchor="middle" fill="#444" font-weight="normal">Top1</text>
<rect x="158.50" y="198.90" width="7.20" height="6.48" fill="#c8301e" stroke="#5a150d" stroke-width="0.6"/>
<text transform="translate(180.95,203.94) scale(0.9,1)" font-size="4.9" text-anchor="middle" fill="#6e6e6e" font-weight="normal">MET</text>
<text transform="translate(211.55,203.94) scale(0.9,1)" font-size="4.9" text-anchor="middle" fill="#6e6e6e" font-weight="normal">119</text>
<text transform="translate(242.25,203.94) scale(0.9,1)" font-size="4.9" text-anchor="middle" fill="#6e6e6e" font-weight="normal">14+55615149</text>
<text transform="translate(130.60,210.42) scale(0.92,1)" font-size="4.9" text-anchor="middle" fill="#444" font-weight="normal">Top2</text>
<rect x="158.50" y="205.38" width="7.20" height="6.48" fill="#e55a1c" stroke="#67280c" stroke-width="0.6"/>
<text transform="translate(180.95,210.42) scale(0.9,1)" font-size="4.9" text-anchor="middle" fill="#6e6e6e" font-weight="normal">MET</text>
<text transform="translate(211.55,210.42) scale(0.9,1)" font-size="4.9" text-anchor="middle" fill="#6e6e6e" font-weight="normal">109</text>
<text transform="translate(242.25,210.42) scale(0.9,1)" font-size="4.9" text-anchor="middle" fill="#6e6e6e" font-weight="normal">14+55674962</text>
<text transform="translate(130.60,216.90) scale(0.92,1)" font-size="4.9" text-anchor="middle" fill="#444" font-weight="normal">Top3</text>
<rect x="158.50" y="211.86" width="7.20" height="6.48" fill="#f6a81a" stroke="#6e4b0b" stroke-width="0.6"/>
<text transform="translate(180.95,216.90) scale(0.9,1)" font-size="4.9" text-anchor="middle" fill="#6e6e6e" font-weight="normal">CCND1</text>
<text transform="translate(211.55,216.90) scale(0.9,1)" font-size="4.9" text-anchor="middle" fill="#6e6e6e" font-weight="normal">58</text>
<text transform="translate(242.25,216.90) scale(0.9,1)" font-size="4.9" text-anchor="middle" fill="#6e6e6e" font-weight="normal">18+48611833</text>
<text transform="translate(130.60,223.38) scale(0.92,1)" font-size="4.9" text-anchor="middle" fill="#444" font-weight="normal">Top4</text>
<rect x="158.50" y="218.34" width="7.20" height="6.48" fill="#f9e31c" stroke="#70660c" stroke-width="0.6"/>
<text transform="translate(180.95,223.38) scale(0.9,1)" font-size="4.9" text-anchor="middle" fill="#6e6e6e" font-weight="normal">CCND1</text>
<text transform="translate(211.55,223.38) scale(0.9,1)" font-size="4.9" text-anchor="middle" fill="#6e6e6e" font-weight="normal">42</text>
<text transform="translate(242.25,223.38) scale(0.9,1)" font-size="4.9" text-anchor="middle" fill="#6e6e6e" font-weight="normal">18+48611849</text>
<text transform="translate(130.60,229.86) scale(0.92,1)" font-size="4.9" text-anchor="middle" fill="#444" font-weight="normal">Top5</text>
<rect x="158.50" y="224.82" width="7.20" height="6.48" fill="#79bd4f" stroke="#365523" stroke-width="0.6"/>
<text transform="translate(180.95,229.86) scale(0.9,1)" font-size="4.9" text-anchor="middle" fill="#6e6e6e" font-weight="normal">RPL15</text>
<text transform="translate(211.55,229.86) scale(0.9,1)" font-size="4.9" text-anchor="middle" fill="#6e6e6e" font-weight="normal">21</text>
<text transform="translate(242.25,229.86) scale(0.9,1)" font-size="4.9" text-anchor="middle" fill="#6e6e6e" font-weight="normal">23+16465615</text>
<text transform="translate(130.60,236.34) scale(0.92,1)" font-size="4.9" text-anchor="middle" fill="#444" font-weight="normal">Top6</text>
<rect x="158.50" y="231.30" width="7.20" height="6.48" fill="#1a9b4b" stroke="#0b4521" stroke-width="0.6"/>
<text transform="translate(180.95,236.34) scale(0.9,1)" font-size="4.9" text-anchor="middle" fill="#6e6e6e" font-weight="normal">RPL15</text>
<text transform="translate(211.55,236.34) scale(0.9,1)" font-size="4.9" text-anchor="middle" fill="#6e6e6e" font-weight="normal">20</text>
<text transform="translate(242.25,236.34) scale(0.9,1)" font-size="4.9" text-anchor="middle" fill="#6e6e6e" font-weight="normal">23+16465613</text>
<text transform="translate(130.60,242.82) scale(0.92,1)" font-size="4.9" text-anchor="middle" fill="#444" font-weight="normal">Top7</text>
<rect x="158.50" y="237.78" width="7.20" height="6.48" fill="#1ba3c6" stroke="#0c4959" stroke-width="0.6"/>
<text transform="translate(180.95,242.82) scale(0.9,1)" font-size="4.9" text-anchor="middle" fill="#6e6e6e" font-weight="normal">FGFR2</text>
<text transform="translate(211.55,242.82) scale(0.9,1)" font-size="4.9" text-anchor="middle" fill="#6e6e6e" font-weight="normal">4</text>
<text transform="translate(242.25,242.82) scale(0.9,1)" font-size="4.9" text-anchor="middle" fill="#6e6e6e" font-weight="normal">28+32082932</text>
<text transform="translate(130.60,249.30) scale(0.92,1)" font-size="4.9" text-anchor="middle" fill="#444" font-weight="normal">Top8</text>
<rect x="158.50" y="244.26" width="7.20" height="6.48" fill="#2481c3" stroke="#103a57" stroke-width="0.6"/>
<text transform="translate(180.95,249.30) scale(0.9,1)" font-size="4.9" text-anchor="middle" fill="#6e6e6e" font-weight="normal">CLIC2</text>
<text transform="translate(211.55,249.30) scale(0.9,1)" font-size="4.9" text-anchor="middle" fill="#6e6e6e" font-weight="normal">3</text>
<text transform="translate(242.25,249.30) scale(0.9,1)" font-size="4.9" text-anchor="middle" fill="#6e6e6e" font-weight="normal">X+123773810</text>
<text transform="translate(130.60,255.78) scale(0.92,1)" font-size="4.9" text-anchor="middle" fill="#444" font-weight="normal">Top9</text>
<rect x="158.50" y="250.74" width="7.20" height="6.48" fill="#163a80" stroke="#091a39" stroke-width="0.6"/>
<text transform="translate(180.95,255.78) scale(0.9,1)" font-size="4.9" text-anchor="middle" fill="#6e6e6e" font-weight="normal">ABCB1</text>
<text transform="translate(211.55,255.78) scale(0.9,1)" font-size="4.9" text-anchor="middle" fill="#6e6e6e" font-weight="normal">3</text>
<text transform="translate(242.25,255.78) scale(0.9,1)" font-size="4.9" text-anchor="middle" fill="#6e6e6e" font-weight="normal">14+16274913</text>
<text transform="translate(130.60,262.26) scale(0.92,1)" font-size="4.9" text-anchor="middle" fill="#444" font-weight="normal">Top10</text>
<rect x="158.50" y="257.22" width="7.20" height="6.48" fill="#74409a" stroke="#341c45" stroke-width="0.6"/>
<text transform="translate(180.95,262.26) scale(0.9,1)" font-size="4.9" text-anchor="middle" fill="#6e6e6e" font-weight="normal">ABCB1</text>
<text transform="translate(211.55,262.26) scale(0.9,1)" font-size="4.9" text-anchor="middle" fill="#6e6e6e" font-weight="normal">3</text>
<text transform="translate(242.25,262.26) scale(0.9,1)" font-size="4.9" text-anchor="middle" fill="#6e6e6e" font-weight="normal">14+16276726</text>
<line x1="165.70" y1="198.90" x2="257.60" y2="198.90" stroke="#505050" stroke-width="0.8"/>
<line x1="165.70" y1="205.38" x2="257.60" y2="205.38" stroke="#505050" stroke-width="1.0"/>
<line x1="165.70" y1="211.86" x2="257.60" y2="211.86" stroke="#505050" stroke-width="1.0"/>
<line x1="165.70" y1="218.34" x2="257.60" y2="218.34" stroke="#505050" stroke-width="1.0"/>
<line x1="165.70" y1="224.82" x2="257.60" y2="224.82" stroke="#505050" stroke-width="1.0"/>
<line x1="165.70" y1="231.30" x2="257.60" y2="231.30" stroke="#505050" stroke-width="1.0"/>
<line x1="165.70" y1="237.78" x2="257.60" y2="237.78" stroke="#505050" stroke-width="1.0"/>
<line x1="165.70" y1="244.26" x2="257.60" y2="244.26" stroke="#505050" stroke-width="1.0"/>
<line x1="165.70" y1="250.74" x2="257.60" y2="250.74" stroke="#505050" stroke-width="1.0"/>
<line x1="165.70" y1="257.22" x2="257.60" y2="257.22" stroke="#505050" stroke-width="1.0"/>
<line x1="165.70" y1="263.70" x2="257.60" y2="263.70" stroke="#505050" stroke-width="1.0"/>
<line x1="165.70" y1="198.90" x2="165.70" y2="263.70" stroke="#505050" stroke-width="1.1"/>
<line x1="196.20" y1="198.90" x2="196.20" y2="263.70" stroke="#505050" stroke-width="1.1"/>
<line x1="226.90" y1="198.90" x2="226.90" y2="263.70" stroke="#505050" stroke-width="1.1"/>
<line x1="257.60" y1="198.90" x2="257.60" y2="263.70" stroke="#505050" stroke-width="1.1"/>
<text transform="translate(132.60,268.74) scale(0.97,1)" font-size="4.9" text-anchor="middle" fill="#444" font-weight="normal">#All Other mapp. IS</text>
<text transform="translate(180.95,268.74) scale(0.9,1)" font-size="4.9" text-anchor="middle" fill="#6e6e6e" font-weight="normal">233</text>
<text transform="translate(211.55,268.74) scale(0.9,1)" font-size="4.9" text-anchor="middle" fill="#6e6e6e" font-weight="normal">272</text>
<line x1="165.70" y1="270.18" x2="226.90" y2="270.18" stroke="#505050" stroke-width="1.0"/>
<line x1="165.70" y1="263.70" x2="165.70" y2="270.18" stroke="#505050" stroke-width="1.1"/>
<line x1="196.20" y1="263.70" x2="196.20" y2="270.18" stroke="#505050" stroke-width="1.1"/>
<line x1="226.90" y1="263.70" x2="226.90" y2="270.18" stroke="#505050" stroke-width="1.1"/>
<text transform="translate(134.00,281.62) scale(0.92,1)" font-size="4.9" text-anchor="middle" fill="#444" font-weight="normal">Seq Count 10 Strongest</text>
<text transform="translate(211.40,281.62) scale(0.9,1)" font-size="4.9" text-anchor="middle" fill="#6e6e6e" font-weight="normal">378</text>
<text transform="translate(134.00,288.27) scale(0.92,1)" font-size="4.9" text-anchor="middle" fill="#444" font-weight="normal">Seq Count all other mapp IS</text>
<text transform="translate(211.40,288.27) scale(0.9,1)" font-size="4.9" text-anchor="middle" fill="#6e6e6e" font-weight="normal">272</text>
<text transform="translate(134.00,294.93) scale(0.92,1)" font-size="4.9" text-anchor="middle" fill="#444" font-weight="normal">Total Seq Counts Used</text>
<text transform="translate(211.40,294.93) scale(0.9,1)" font-size="4.9" text-anchor="middle" fill="#6e6e6e" font-weight="normal">650</text>
<rect x="165.30" y="276.50" width="92.20" height="19.95" fill="none" stroke="#505050" stroke-width="1.0"/>
<line x1="165.30" y1="283.15" x2="257.50" y2="283.15" stroke="#505050" stroke-width="1.0"/>
<line x1="165.30" y1="289.80" x2="257.50" y2="289.80" stroke="#505050" stroke-width="1.0"/>
</g>
<g transform="translate(0,287.0)">
<text transform="translate(10.40,182.80) scale(1.18,1)" font-size="12.0" text-anchor="middle" fill="#111" font-weight="bold">D</text>
<text transform="translate(82.30,183.00) scale(0.95,1)" font-size="9.6" text-anchor="middle" fill="#1e1e1e" font-weight="normal">ANG-2</text>
<line x1="53.40" y1="188.60" x2="53.40" y2="296.50" stroke="#333" stroke-width="1.2"/>
<line x1="50.00" y1="296.00" x2="53.40" y2="296.00" stroke="#333" stroke-width="1.0"/>
<text x="47.00" y="298.60" font-size="6.4" text-anchor="end" fill="#3a3a3a" font-weight="normal" >0%</text>
<line x1="50.00" y1="275.06" x2="53.40" y2="275.06" stroke="#333" stroke-width="1.0"/>
<text x="47.00" y="277.66" font-size="6.4" text-anchor="end" fill="#3a3a3a" font-weight="normal" >20%</text>
<line x1="50.00" y1="254.12" x2="53.40" y2="254.12" stroke="#333" stroke-width="1.0"/>
<text x="47.00" y="256.72" font-size="6.4" text-anchor="end" fill="#3a3a3a" font-weight="normal" >40%</text>
<line x1="50.00" y1="233.18" x2="53.40" y2="233.18" stroke="#333" stroke-width="1.0"/>
<text x="47.00" y="235.78" font-size="6.4" text-anchor="end" fill="#3a3a3a" font-weight="normal" >60%</text>
<line x1="50.00" y1="212.24" x2="53.40" y2="212.24" stroke="#333" stroke-width="1.0"/>
<text x="47.00" y="214.84" font-size="6.4" text-anchor="end" fill="#3a3a3a" font-weight="normal" >80%</text>
<line x1="50.00" y1="191.30" x2="53.40" y2="191.30" stroke="#333" stroke-width="1.0"/>
<text x="47.00" y="193.90" font-size="6.4" text-anchor="end" fill="#3a3a3a" font-weight="normal" >100%</text>
<text transform="translate(25.4,242.8) rotate(-90) scale(0.834,1)" font-size="8.4" text-anchor="middle" fill="#444">Sequence count [%]</text>
<rect x="61.40" y="191.30" width="40.80" height="6.54" fill="#dfdfdf" stroke="#6a6a6a" stroke-width="0.8"/>
<rect x="61.40" y="263.30" width="40.80" height="32.70" fill="#c42b14" stroke="#3a0c06" stroke-width="0.65"/>
<rect x="61.40" y="240.86" width="40.80" height="22.45" fill="#e35411" stroke="#441905" stroke-width="0.65"/>
<rect x="61.40" y="219.24" width="40.80" height="21.62" fill="#fbb415" stroke="#4b3606" stroke-width="0.65"/>
<rect x="61.40" y="207.04" width="40.80" height="12.20" fill="#fce71b" stroke="#4b4508" stroke-width="0.65"/>
<rect x="61.40" y="203.67" width="40.80" height="3.37" fill="#7fc24a" stroke="#263a16" stroke-width="0.65"/>
<rect x="61.40" y="201.65" width="40.80" height="2.02" fill="#17944a" stroke="#062c16" stroke-width="0.65"/>
<rect x="61.40" y="199.86" width="40.80" height="1.80" fill="#1a8fa8" stroke="#072a32" stroke-width="0.65"/>
<rect x="61.40" y="198.96" width="40.80" height="0.90" fill="#2478b8" stroke="#0a2437" stroke-width="0.65"/>
<rect x="61.40" y="198.29" width="40.80" height="0.67" fill="#0f2a5c" stroke="#040c1b" stroke-width="0.65"/>
<rect x="61.40" y="197.84" width="40.80" height="0.45" fill="#2a2a4a" stroke="#0c0c16" stroke-width="0.65"/>
<line x1="49.60" y1="296.30" x2="112.00" y2="296.30" stroke="#2a2a2a" stroke-width="1.2"/>
<line x1="53.40" y1="188.60" x2="53.40" y2="296.90" stroke="#333" stroke-width="1.2"/>
<text transform="translate(130.80,197.60) scale(0.92,1)" font-size="4.9" text-anchor="middle" fill="#3a3a3a" font-weight="normal">Rank</text>
<text transform="translate(180.95,197.60) scale(0.92,1)" font-size="4.9" text-anchor="middle" fill="#3a3a3a" font-weight="normal">Gene Name</text>
<text transform="translate(211.55,197.60) scale(0.92,1)" font-size="4.9" text-anchor="middle" fill="#3a3a3a" font-weight="normal">Seq. Count</text>
<text transform="translate(242.05,197.60) scale(0.92,1)" font-size="4.9" text-anchor="middle" fill="#3a3a3a" font-weight="normal">Location</text>
<text transform="translate(130.60,203.94) scale(0.92,1)" font-size="4.9" text-anchor="middle" fill="#444" font-weight="normal">Top1</text>
<rect x="158.50" y="198.90" width="7.20" height="6.48" fill="#c8301e" stroke="#5a150d" stroke-width="0.6"/>
<text transform="translate(180.95,203.94) scale(0.9,1)" font-size="4.9" text-anchor="middle" fill="#6e6e6e" font-weight="normal">MIR320</text>
<text transform="translate(211.55,203.94) scale(0.9,1)" font-size="4.9" text-anchor="middle" fill="#6e6e6e" font-weight="normal">437</text>
<text transform="translate(242.05,203.94) scale(0.9,1)" font-size="4.9" text-anchor="middle" fill="#6e6e6e" font-weight="normal">25+34595658</text>
<text transform="translate(130.60,210.42) scale(0.92,1)" font-size="4.9" text-anchor="middle" fill="#444" font-weight="normal">Top2</text>
<rect x="158.50" y="205.38" width="7.20" height="6.48" fill="#e55a1c" stroke="#67280c" stroke-width="0.6"/>
<text transform="translate(180.95,210.42) scale(0.9,1)" font-size="4.9" text-anchor="middle" fill="#6e6e6e" font-weight="normal">MIR320</text>
<text transform="translate(211.55,210.42) scale(0.9,1)" font-size="4.9" text-anchor="middle" fill="#6e6e6e" font-weight="normal">300</text>
<text transform="translate(242.05,210.42) scale(0.9,1)" font-size="4.9" text-anchor="middle" fill="#6e6e6e" font-weight="normal">25+34589409</text>
<text transform="translate(130.60,216.90) scale(0.92,1)" font-size="4.9" text-anchor="middle" fill="#444" font-weight="normal">Top3</text>
<rect x="158.50" y="211.86" width="7.20" height="6.48" fill="#f6a81a" stroke="#6e4b0b" stroke-width="0.6"/>
<text transform="translate(180.95,216.90) scale(0.9,1)" font-size="4.9" text-anchor="middle" fill="#6e6e6e" font-weight="normal">MIR320</text>
<text transform="translate(211.55,216.90) scale(0.9,1)" font-size="4.9" text-anchor="middle" fill="#6e6e6e" font-weight="normal">289</text>
<text transform="translate(242.05,216.90) scale(0.9,1)" font-size="4.9" text-anchor="middle" fill="#6e6e6e" font-weight="normal">25+34589406</text>
<text transform="translate(130.60,223.38) scale(0.92,1)" font-size="4.9" text-anchor="middle" fill="#444" font-weight="normal">Top4</text>
<rect x="158.50" y="218.34" width="7.20" height="6.48" fill="#f9e31c" stroke="#70660c" stroke-width="0.6"/>
<text transform="translate(180.95,223.38) scale(0.9,1)" font-size="4.9" text-anchor="middle" fill="#6e6e6e" font-weight="normal">MET</text>
<text transform="translate(211.55,223.38) scale(0.9,1)" font-size="4.9" text-anchor="middle" fill="#6e6e6e" font-weight="normal">163</text>
<text transform="translate(242.05,223.38) scale(0.9,1)" font-size="4.9" text-anchor="middle" fill="#6e6e6e" font-weight="normal">14+55620576</text>
<text transform="translate(130.60,229.86) scale(0.92,1)" font-size="4.9" text-anchor="middle" fill="#444" font-weight="normal">Top5</text>
<rect x="158.50" y="224.82" width="7.20" height="6.48" fill="#79bd4f" stroke="#365523" stroke-width="0.6"/>
<text transform="translate(180.95,229.86) scale(0.9,1)" font-size="4.9" text-anchor="middle" fill="#6e6e6e" font-weight="normal">F8</text>
<text transform="translate(211.55,229.86) scale(0.9,1)" font-size="4.9" text-anchor="middle" fill="#6e6e6e" font-weight="normal">45</text>
<text transform="translate(242.05,229.86) scale(0.9,1)" font-size="4.9" text-anchor="middle" fill="#6e6e6e" font-weight="normal">X+122990517</text>
<text transform="translate(130.60,236.34) scale(0.92,1)" font-size="4.9" text-anchor="middle" fill="#444" font-weight="normal">Top6</text>
<rect x="158.50" y="231.30" width="7.20" height="6.48" fill="#1a9b4b" stroke="#0b4521" stroke-width="0.6"/>
<text transform="translate(180.95,236.34) scale(0.9,1)" font-size="4.9" text-anchor="middle" fill="#6e6e6e" font-weight="normal">F8</text>
<text transform="translate(211.55,236.34) scale(0.9,1)" font-size="4.9" text-anchor="middle" fill="#6e6e6e" font-weight="normal">27</text>
<text transform="translate(242.05,236.34) scale(0.9,1)" font-size="4.9" text-anchor="middle" fill="#6e6e6e" font-weight="normal">X+123043093</text>
<text transform="translate(130.60,242.82) scale(0.92,1)" font-size="4.9" text-anchor="middle" fill="#444" font-weight="normal">Top7</text>
<rect x="158.50" y="237.78" width="7.20" height="6.48" fill="#1ba3c6" stroke="#0c4959" stroke-width="0.6"/>
<text transform="translate(180.95,242.82) scale(0.9,1)" font-size="4.9" text-anchor="middle" fill="#6e6e6e" font-weight="normal">F8</text>
<text transform="translate(211.55,242.82) scale(0.9,1)" font-size="4.9" text-anchor="middle" fill="#6e6e6e" font-weight="normal">24</text>
<text transform="translate(242.05,242.82) scale(0.9,1)" font-size="4.9" text-anchor="middle" fill="#6e6e6e" font-weight="normal">X+123000564</text>
<text transform="translate(130.60,249.30) scale(0.92,1)" font-size="4.9" text-anchor="middle" fill="#444" font-weight="normal">Top8</text>
<rect x="158.50" y="244.26" width="7.20" height="6.48" fill="#2481c3" stroke="#103a57" stroke-width="0.6"/>
<text transform="translate(180.95,249.30) scale(0.9,1)" font-size="4.9" text-anchor="middle" fill="#6e6e6e" font-weight="normal">F8</text>
<text transform="translate(211.55,249.30) scale(0.9,1)" font-size="4.9" text-anchor="middle" fill="#6e6e6e" font-weight="normal">12</text>
<text transform="translate(242.05,249.30) scale(0.9,1)" font-size="4.9" text-anchor="middle" fill="#6e6e6e" font-weight="normal">X+122986004</text>
<text transform="translate(130.60,255.78) scale(0.92,1)" font-size="4.9" text-anchor="middle" fill="#444" font-weight="normal">Top9</text>
<rect x="158.50" y="250.74" width="7.20" height="6.48" fill="#163a80" stroke="#091a39" stroke-width="0.6"/>
<text transform="translate(180.95,255.78) scale(0.9,1)" font-size="4.9" text-anchor="middle" fill="#6e6e6e" font-weight="normal">MIR1296</text>
<text transform="translate(211.55,255.78) scale(0.9,1)" font-size="4.9" text-anchor="middle" fill="#6e6e6e" font-weight="normal">9</text>
<text transform="translate(242.05,255.78) scale(0.9,1)" font-size="4.9" text-anchor="middle" fill="#6e6e6e" font-weight="normal">4+14713493</text>
<text transform="translate(130.60,262.26) scale(0.92,1)" font-size="4.9" text-anchor="middle" fill="#444" font-weight="normal">Top10</text>
<rect x="158.50" y="257.22" width="7.20" height="6.48" fill="#74409a" stroke="#341c45" stroke-width="0.6"/>
<text transform="translate(180.95,262.26) scale(0.9,1)" font-size="4.9" text-anchor="middle" fill="#6e6e6e" font-weight="normal">MET</text>
<text transform="translate(211.55,262.26) scale(0.9,1)" font-size="4.9" text-anchor="middle" fill="#6e6e6e" font-weight="normal">6</text>
<text transform="translate(242.05,262.26) scale(0.9,1)" font-size="4.9" text-anchor="middle" fill="#6e6e6e" font-weight="normal">14+55620515</text>
<line x1="165.70" y1="198.90" x2="257.20" y2="198.90" stroke="#505050" stroke-width="0.8"/>
<line x1="165.70" y1="205.38" x2="257.20" y2="205.38" stroke="#505050" stroke-width="1.0"/>
<line x1="165.70" y1="211.86" x2="257.20" y2="211.86" stroke="#505050" stroke-width="1.0"/>
<line x1="165.70" y1="218.34" x2="257.20" y2="218.34" stroke="#505050" stroke-width="1.0"/>
<line x1="165.70" y1="224.82" x2="257.20" y2="224.82" stroke="#505050" stroke-width="1.0"/>
<line x1="165.70" y1="231.30" x2="257.20" y2="231.30" stroke="#505050" stroke-width="1.0"/>
<line x1="165.70" y1="237.78" x2="257.20" y2="237.78" stroke="#505050" stroke-width="1.0"/>
<line x1="165.70" y1="244.26" x2="257.20" y2="244.26" stroke="#505050" stroke-width="1.0"/>
<line x1="165.70" y1="250.74" x2="257.20" y2="250.74" stroke="#505050" stroke-width="1.0"/>
<line x1="165.70" y1="257.22" x2="257.20" y2="257.22" stroke="#505050" stroke-width="1.0"/>
<line x1="165.70" y1="263.70" x2="257.20" y2="263.70" stroke="#505050" stroke-width="1.0"/>
<line x1="165.70" y1="198.90" x2="165.70" y2="263.70" stroke="#505050" stroke-width="1.1"/>
<line x1="196.20" y1="198.90" x2="196.20" y2="263.70" stroke="#505050" stroke-width="1.1"/>
<line x1="226.90" y1="198.90" x2="226.90" y2="263.70" stroke="#505050" stroke-width="1.1"/>
<line x1="257.20" y1="198.90" x2="257.20" y2="263.70" stroke="#505050" stroke-width="1.1"/>
<text transform="translate(132.60,268.74) scale(0.97,1)" font-size="4.9" text-anchor="middle" fill="#444" font-weight="normal">#All Other mapp. IS</text>
<text transform="translate(180.95,268.74) scale(0.9,1)" font-size="4.9" text-anchor="middle" fill="#6e6e6e" font-weight="normal">18</text>
<text transform="translate(211.55,268.74) scale(0.9,1)" font-size="4.9" text-anchor="middle" fill="#6e6e6e" font-weight="normal">65</text>
<line x1="165.70" y1="270.18" x2="226.90" y2="270.18" stroke="#505050" stroke-width="1.0"/>
<line x1="165.70" y1="263.70" x2="165.70" y2="270.18" stroke="#505050" stroke-width="1.1"/>
<line x1="196.20" y1="263.70" x2="196.20" y2="270.18" stroke="#505050" stroke-width="1.1"/>
<line x1="226.90" y1="263.70" x2="226.90" y2="270.18" stroke="#505050" stroke-width="1.1"/>
<text transform="translate(134.00,281.62) scale(0.92,1)" font-size="4.9" text-anchor="middle" fill="#444" font-weight="normal">Seq Count 10 Strongest</text>
<text transform="translate(211.40,281.62) scale(0.9,1)" font-size="4.9" text-anchor="middle" fill="#6e6e6e" font-weight="normal">1,312</text>
<text transform="translate(134.00,288.27) scale(0.92,1)" font-size="4.9" text-anchor="middle" fill="#444" font-weight="normal">Seq Count all other mapp IS</text>
<text transform="translate(211.40,288.27) scale(0.9,1)" font-size="4.9" text-anchor="middle" fill="#6e6e6e" font-weight="normal">65</text>
<text transform="translate(134.00,294.93) scale(0.92,1)" font-size="4.9" text-anchor="middle" fill="#444" font-weight="normal">Total Seq Counts Used</text>
<text transform="translate(211.40,294.93) scale(0.9,1)" font-size="4.9" text-anchor="middle" fill="#6e6e6e" font-weight="normal">1,377</text>
<rect x="165.30" y="276.50" width="92.20" height="19.95" fill="none" stroke="#505050" stroke-width="1.0"/>
<line x1="165.30" y1="283.15" x2="257.50" y2="283.15" stroke="#505050" stroke-width="1.0"/>
<line x1="165.30" y1="289.80" x2="257.50" y2="289.80" stroke="#505050" stroke-width="1.0"/>
</g>
<g transform="translate(255.7,287.0)">
<text transform="translate(82.30,183.00) scale(0.95,1)" font-size="9.6" text-anchor="middle" fill="#1e1e1e" font-weight="normal">MG-1</text>
<line x1="53.70" y1="188.60" x2="53.70" y2="296.50" stroke="#333" stroke-width="1.2"/>
<line x1="50.00" y1="296.00" x2="53.70" y2="296.00" stroke="#333" stroke-width="1.0"/>
<text x="47.00" y="298.60" font-size="6.4" text-anchor="end" fill="#3a3a3a" font-weight="normal" >0%</text>
<line x1="50.00" y1="275.06" x2="53.70" y2="275.06" stroke="#333" stroke-width="1.0"/>
<text x="47.00" y="277.66" font-size="6.4" text-anchor="end" fill="#3a3a3a" font-weight="normal" >20%</text>
<line x1="50.00" y1="254.12" x2="53.70" y2="254.12" stroke="#333" stroke-width="1.0"/>
<text x="47.00" y="256.72" font-size="6.4" text-anchor="end" fill="#3a3a3a" font-weight="normal" >40%</text>
<line x1="50.00" y1="233.18" x2="53.70" y2="233.18" stroke="#333" stroke-width="1.0"/>
<text x="47.00" y="235.78" font-size="6.4" text-anchor="end" fill="#3a3a3a" font-weight="normal" >60%</text>
<line x1="50.00" y1="212.24" x2="53.70" y2="212.24" stroke="#333" stroke-width="1.0"/>
<text x="47.00" y="214.84" font-size="6.4" text-anchor="end" fill="#3a3a3a" font-weight="normal" >80%</text>
<line x1="50.00" y1="191.30" x2="53.70" y2="191.30" stroke="#333" stroke-width="1.0"/>
<text x="47.00" y="193.90" font-size="6.4" text-anchor="end" fill="#3a3a3a" font-weight="normal" >100%</text>
<text transform="translate(25.4,242.8) rotate(-90) scale(0.834,1)" font-size="8.4" text-anchor="middle" fill="#444">Sequence count [%]</text>
<rect x="62.70" y="191.30" width="40.10" height="12.17" fill="#dfdfdf" stroke="#6a6a6a" stroke-width="0.8"/>
<rect x="63.10" y="201.47" width="39.30" height="1.80" fill="#f2f2f4"/>
<rect x="62.70" y="241.75" width="40.10" height="54.25" fill="#c42b14" stroke="#3a0c06" stroke-width="0.65"/>
<rect x="62.70" y="207.93" width="40.10" height="33.82" fill="#e35411" stroke="#441905" stroke-width="0.65"/>
<rect x="62.70" y="206.99" width="40.10" height="0.94" fill="#fbb415" stroke="#4b3606" stroke-width="0.65"/>
<rect x="62.70" y="206.29" width="40.10" height="0.70" fill="#fce71b" stroke="#4b4508" stroke-width="0.65"/>
<rect x="62.70" y="205.82" width="40.10" height="0.47" fill="#7fc24a" stroke="#263a16" stroke-width="0.65"/>
<rect x="62.70" y="205.35" width="40.10" height="0.47" fill="#17944a" stroke="#062c16" stroke-width="0.65"/>
<rect x="62.70" y="204.88" width="40.10" height="0.47" fill="#1a8fa8" stroke="#072a32" stroke-width="0.65"/>
<rect x="62.70" y="204.41" width="40.10" height="0.47" fill="#2478b8" stroke="#0a2437" stroke-width="0.65"/>
<rect x="62.70" y="203.94" width="40.10" height="0.47" fill="#0f2a5c" stroke="#040c1b" stroke-width="0.65"/>
<rect x="62.70" y="203.47" width="40.10" height="0.47" fill="#2a2a4a" stroke="#0c0c16" stroke-width="0.65"/>
<line x1="49.60" y1="296.30" x2="112.00" y2="296.30" stroke="#2a2a2a" stroke-width="1.2"/>
<line x1="53.70" y1="188.60" x2="53.70" y2="296.90" stroke="#333" stroke-width="1.2"/>
<text transform="translate(130.80,197.60) scale(0.92,1)" font-size="4.9" text-anchor="middle" fill="#3a3a3a" font-weight="normal">Rank</text>
<text transform="translate(180.95,197.60) scale(0.92,1)" font-size="4.9" text-anchor="middle" fill="#3a3a3a" font-weight="normal">Gene Name</text>
<text transform="translate(211.55,197.60) scale(0.92,1)" font-size="4.9" text-anchor="middle" fill="#3a3a3a" font-weight="normal">Seq. Count</text>
<text transform="translate(242.25,197.60) scale(0.92,1)" font-size="4.9" text-anchor="middle" fill="#3a3a3a" font-weight="normal">Location</text>
<text transform="translate(130.60,203.94) scale(0.92,1)" font-size="4.9" text-anchor="middle" fill="#444" font-weight="normal">Top1</text>
<rect x="158.50" y="198.90" width="7.20" height="6.48" fill="#c8301e" stroke="#5a150d" stroke-width="0.6"/>
<text transform="translate(180.95,203.94) scale(0.9,1)" font-size="4.9" text-anchor="middle" fill="#6e6e6e" font-weight="normal">CCND1</text>
<text transform="translate(211.55,203.94) scale(0.9,1)" font-size="4.9" text-anchor="middle" fill="#6e6e6e" font-weight="normal">231</text>
<text transform="translate(242.25,203.94) scale(0.9,1)" font-size="4.9" text-anchor="middle" fill="#6e6e6e" font-weight="normal">18+48671995</text>
<text transform="translate(130.60,210.42) scale(0.92,1)" font-size="4.9" text-anchor="middle" fill="#444" font-weight="normal">Top2</text>
<rect x="158.50" y="205.38" width="7.20" height="6.48" fill="#e55a1c" stroke="#67280c" stroke-width="0.6"/>
<text transform="translate(180.95,210.42) scale(0.9,1)" font-size="4.9" text-anchor="middle" fill="#6e6e6e" font-weight="normal">CCND1</text>
<text transform="translate(211.55,210.42) scale(0.9,1)" font-size="4.9" text-anchor="middle" fill="#6e6e6e" font-weight="normal">144</text>
<text transform="translate(242.25,210.42) scale(0.9,1)" font-size="4.9" text-anchor="middle" fill="#6e6e6e" font-weight="normal">18+48671926</text>
<text transform="translate(130.60,216.90) scale(0.92,1)" font-size="4.9" text-anchor="middle" fill="#444" font-weight="normal">Top3</text>
<rect x="158.50" y="211.86" width="7.20" height="6.48" fill="#f6a81a" stroke="#6e4b0b" stroke-width="0.6"/>
<text transform="translate(180.95,216.90) scale(0.9,1)" font-size="4.9" text-anchor="middle" fill="#6e6e6e" font-weight="normal">CLGN</text>
<text transform="translate(211.55,216.90) scale(0.9,1)" font-size="4.9" text-anchor="middle" fill="#6e6e6e" font-weight="normal">4</text>
<text transform="translate(242.25,216.90) scale(0.9,1)" font-size="4.9" text-anchor="middle" fill="#6e6e6e" font-weight="normal">19+2586882</text>
<text transform="translate(130.60,223.38) scale(0.92,1)" font-size="4.9" text-anchor="middle" fill="#444" font-weight="normal">Top4</text>
<rect x="158.50" y="218.34" width="7.20" height="6.48" fill="#f9e31c" stroke="#70660c" stroke-width="0.6"/>
<text transform="translate(180.95,223.38) scale(0.9,1)" font-size="4.9" text-anchor="middle" fill="#6e6e6e" font-weight="normal">CLIC2</text>
<text transform="translate(211.55,223.38) scale(0.9,1)" font-size="4.9" text-anchor="middle" fill="#6e6e6e" font-weight="normal">3</text>
<text transform="translate(242.25,223.38) scale(0.9,1)" font-size="4.9" text-anchor="middle" fill="#6e6e6e" font-weight="normal">X+123774454</text>
<text transform="translate(130.60,229.86) scale(0.92,1)" font-size="4.9" text-anchor="middle" fill="#444" font-weight="normal">Top5</text>
<rect x="158.50" y="224.82" width="7.20" height="6.48" fill="#79bd4f" stroke="#365523" stroke-width="0.6"/>
<text transform="translate(180.95,229.86) scale(0.9,1)" font-size="4.9" text-anchor="middle" fill="#6e6e6e" font-weight="normal">IL15</text>
<text transform="translate(211.55,229.86) scale(0.9,1)" font-size="4.9" text-anchor="middle" fill="#6e6e6e" font-weight="normal">2</text>
<text transform="translate(242.25,229.86) scale(0.9,1)" font-size="4.9" text-anchor="middle" fill="#6e6e6e" font-weight="normal">19+421885</text>
<text transform="translate(130.60,236.34) scale(0.92,1)" font-size="4.9" text-anchor="middle" fill="#444" font-weight="normal">Top6</text>
<rect x="158.50" y="231.30" width="7.20" height="6.48" fill="#1a9b4b" stroke="#0b4521" stroke-width="0.6"/>
<text transform="translate(180.95,236.34) scale(0.9,1)" font-size="4.9" text-anchor="middle" fill="#6e6e6e" font-weight="normal">BRCA2</text>
<text transform="translate(211.55,236.34) scale(0.9,1)" font-size="4.9" text-anchor="middle" fill="#6e6e6e" font-weight="normal">2</text>
<text transform="translate(242.25,236.34) scale(0.9,1)" font-size="4.9" text-anchor="middle" fill="#6e6e6e" font-weight="normal">25+3928864</text>
<text transform="translate(130.60,242.82) scale(0.92,1)" font-size="4.9" text-anchor="middle" fill="#444" font-weight="normal">Top7</text>
<rect x="158.50" y="237.78" width="7.20" height="6.48" fill="#1ba3c6" stroke="#0c4959" stroke-width="0.6"/>
<text transform="translate(180.95,242.82) scale(0.9,1)" font-size="4.9" text-anchor="middle" fill="#6e6e6e" font-weight="normal">NEFH</text>
<text transform="translate(211.55,242.82) scale(0.9,1)" font-size="4.9" text-anchor="middle" fill="#6e6e6e" font-weight="normal">2</text>
<text transform="translate(242.25,242.82) scale(0.9,1)" font-size="4.9" text-anchor="middle" fill="#6e6e6e" font-weight="normal">26+22784680</text>
<text transform="translate(130.60,249.30) scale(0.92,1)" font-size="4.9" text-anchor="middle" fill="#444" font-weight="normal">Top8</text>
<rect x="158.50" y="244.26" width="7.20" height="6.48" fill="#2481c3" stroke="#103a57" stroke-width="0.6"/>
<text transform="translate(180.95,249.30) scale(0.9,1)" font-size="4.9" text-anchor="middle" fill="#6e6e6e" font-weight="normal">KCNIP2</text>
<text transform="translate(211.55,249.30) scale(0.9,1)" font-size="4.9" text-anchor="middle" fill="#6e6e6e" font-weight="normal">2</text>
<text transform="translate(242.25,249.30) scale(0.9,1)" font-size="4.9" text-anchor="middle" fill="#6e6e6e" font-weight="normal">28+14056188</text>
<text transform="translate(130.60,255.78) scale(0.92,1)" font-size="4.9" text-anchor="middle" fill="#444" font-weight="normal">Top9</text>
<rect x="158.50" y="250.74" width="7.20" height="6.48" fill="#163a80" stroke="#091a39" stroke-width="0.6"/>
<text transform="translate(180.95,255.78) scale(0.9,1)" font-size="4.9" text-anchor="middle" fill="#6e6e6e" font-weight="normal">CRYAA</text>
<text transform="translate(211.55,255.78) scale(0.9,1)" font-size="4.9" text-anchor="middle" fill="#6e6e6e" font-weight="normal">2</text>
<text transform="translate(242.25,255.78) scale(0.9,1)" font-size="4.9" text-anchor="middle" fill="#6e6e6e" font-weight="normal">31+37875327</text>
<text transform="translate(130.60,262.26) scale(0.92,1)" font-size="4.9" text-anchor="middle" fill="#444" font-weight="normal">Top10</text>
<rect x="158.50" y="257.22" width="7.20" height="6.48" fill="#74409a" stroke="#341c45" stroke-width="0.6"/>
<text transform="translate(180.95,262.26) scale(0.9,1)" font-size="4.9" text-anchor="middle" fill="#6e6e6e" font-weight="normal">CCL28</text>
<text transform="translate(211.55,262.26) scale(0.9,1)" font-size="4.9" text-anchor="middle" fill="#6e6e6e" font-weight="normal">2</text>
<text transform="translate(242.25,262.26) scale(0.9,1)" font-size="4.9" text-anchor="middle" fill="#6e6e6e" font-weight="normal">4+66356565</text>
<line x1="165.70" y1="198.90" x2="257.60" y2="198.90" stroke="#505050" stroke-width="0.8"/>
<line x1="165.70" y1="205.38" x2="257.60" y2="205.38" stroke="#505050" stroke-width="1.0"/>
<line x1="165.70" y1="211.86" x2="257.60" y2="211.86" stroke="#505050" stroke-width="1.0"/>
<line x1="165.70" y1="218.34" x2="257.60" y2="218.34" stroke="#505050" stroke-width="1.0"/>
<line x1="165.70" y1="224.82" x2="257.60" y2="224.82" stroke="#505050" stroke-width="1.0"/>
<line x1="165.70" y1="231.30" x2="257.60" y2="231.30" stroke="#505050" stroke-width="1.0"/>
<line x1="165.70" y1="237.78" x2="257.60" y2="237.78" stroke="#505050" stroke-width="1.0"/>
<line x1="165.70" y1="244.26" x2="257.60" y2="244.26" stroke="#505050" stroke-width="1.0"/>
<line x1="165.70" y1="250.74" x2="257.60" y2="250.74" stroke="#505050" stroke-width="1.0"/>
<line x1="165.70" y1="257.22" x2="257.60" y2="257.22" stroke="#505050" stroke-width="1.0"/>
<line x1="165.70" y1="263.70" x2="257.60" y2="263.70" stroke="#505050" stroke-width="1.0"/>
<line x1="165.70" y1="198.90" x2="165.70" y2="263.70" stroke="#505050" stroke-width="1.1"/>
<line x1="196.20" y1="198.90" x2="196.20" y2="263.70" stroke="#505050" stroke-width="1.1"/>
<line x1="226.90" y1="198.90" x2="226.90" y2="263.70" stroke="#505050" stroke-width="1.1"/>
<line x1="257.60" y1="198.90" x2="257.60" y2="263.70" stroke="#505050" stroke-width="1.1"/>
<text transform="translate(132.60,268.74) scale(0.97,1)" font-size="4.9" text-anchor="middle" fill="#444" font-weight="normal">#All Other mapp. IS</text>
<text transform="translate(180.95,268.74) scale(0.9,1)" font-size="4.9" text-anchor="middle" fill="#6e6e6e" font-weight="normal">38</text>
<text transform="translate(211.55,268.74) scale(0.9,1)" font-size="4.9" text-anchor="middle" fill="#6e6e6e" font-weight="normal">42</text>
<line x1="165.70" y1="270.18" x2="226.90" y2="270.18" stroke="#505050" stroke-width="1.0"/>
<line x1="165.70" y1="263.70" x2="165.70" y2="270.18" stroke="#505050" stroke-width="1.1"/>
<line x1="196.20" y1="263.70" x2="196.20" y2="270.18" stroke="#505050" stroke-width="1.1"/>
<line x1="226.90" y1="263.70" x2="226.90" y2="270.18" stroke="#505050" stroke-width="1.1"/>
<text transform="translate(134.00,281.62) scale(0.92,1)" font-size="4.9" text-anchor="middle" fill="#444" font-weight="normal">Seq Count 10 Strongest</text>
<text transform="translate(211.40,281.62) scale(0.9,1)" font-size="4.9" text-anchor="middle" fill="#6e6e6e" font-weight="normal">394</text>
<text transform="translate(134.00,288.27) scale(0.92,1)" font-size="4.9" text-anchor="middle" fill="#444" font-weight="normal">Seq Count all other mapp IS</text>
<text transform="translate(211.40,288.27) scale(0.9,1)" font-size="4.9" text-anchor="middle" fill="#6e6e6e" font-weight="normal">42</text>
<text transform="translate(134.00,294.93) scale(0.92,1)" font-size="4.9" text-anchor="middle" fill="#444" font-weight="normal">Total Seq Counts Used</text>
<text transform="translate(211.40,294.93) scale(0.9,1)" font-size="4.9" text-anchor="middle" fill="#6e6e6e" font-weight="normal">436</text>
<rect x="165.30" y="276.50" width="92.20" height="19.95" fill="none" stroke="#505050" stroke-width="1.0"/>
<line x1="165.30" y1="283.15" x2="257.50" y2="283.15" stroke="#505050" stroke-width="1.0"/>
<line x1="165.30" y1="289.80" x2="257.50" y2="289.80" stroke="#505050" stroke-width="1.0"/>
</g>
<rect x="0.5" y="0.5" width="519" height="591" fill="none" stroke="#575757" stroke-width="1"/>
</svg>
</body></html>
